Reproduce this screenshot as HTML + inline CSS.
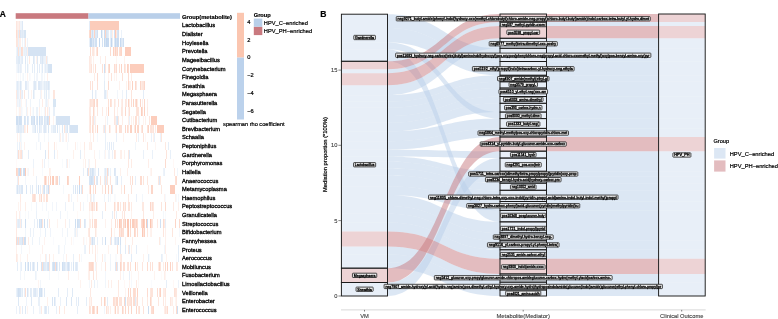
<!DOCTYPE html>
<html><head><meta charset="utf-8"><style>html,body{margin:0;padding:0;background:#fff;width:778px;height:319px;overflow:hidden}svg{display:block;will-change:transform}</style></head>
<body><svg width="778" height="319" viewBox="0 0 778 319">
<style>text{stroke:#000;stroke-width:0.2px;fill:#000}text.hl{stroke-width:0.3px}text.lb{stroke-width:0.3px;font-weight:normal}text.g{stroke:#404040;fill:#404040;stroke-width:0.12px}</style><rect width="778" height="319" fill="#fff"/>
<g shape-rendering="crispEdges"><rect x="16.00" y="21.10" width="1.00" height="8.62" fill="#fde6de"/><rect x="17.00" y="21.10" width="1.00" height="8.62" fill="#feeee9"/><rect x="18.00" y="21.10" width="1.00" height="8.62" fill="#fef0eb"/><rect x="19.00" y="21.10" width="1.00" height="8.62" fill="#fde8e1"/><rect x="20.00" y="21.10" width="1.00" height="8.62" fill="#eff4fb"/><rect x="21.00" y="21.10" width="1.00" height="8.62" fill="#eef4fa"/><rect x="22.00" y="21.10" width="0.60" height="8.62" fill="#dee9f6"/><rect x="88.50" y="21.10" width="1.10" height="8.62" fill="#e4edf8"/><rect x="89.60" y="21.10" width="29.10" height="8.62" fill="#fbccbb"/><rect x="16.00" y="29.72" width="1.00" height="8.62" fill="#fddcd0"/><rect x="17.00" y="29.72" width="1.00" height="8.62" fill="#fde8e1"/><rect x="18.00" y="29.72" width="1.00" height="8.62" fill="#e2ecf7"/><rect x="19.00" y="29.72" width="1.00" height="8.62" fill="#fdded2"/><rect x="20.00" y="29.72" width="1.00" height="8.62" fill="#dbe7f5"/><rect x="21.00" y="29.72" width="1.00" height="8.62" fill="#e4edf8"/><rect x="22.00" y="29.72" width="1.00" height="8.62" fill="#dfeaf6"/><rect x="23.00" y="29.72" width="1.00" height="8.62" fill="#e6eef8"/><rect x="24.00" y="29.72" width="1.80" height="8.62" fill="#d8e6f4"/><rect x="88.50" y="29.72" width="1.00" height="8.62" fill="#fcdcd0"/><rect x="89.50" y="29.72" width="1.00" height="8.62" fill="#fbccbb"/><rect x="90.50" y="29.72" width="1.00" height="8.62" fill="#e2ecf7"/><rect x="91.50" y="29.72" width="1.00" height="8.62" fill="#cfdff2"/><rect x="92.50" y="29.72" width="1.00" height="8.62" fill="#e5eef8"/><rect x="93.50" y="29.72" width="1.00" height="8.62" fill="#fcd4c6"/><rect x="94.50" y="29.72" width="1.00" height="8.62" fill="#dce8f5"/><rect x="95.50" y="29.72" width="1.00" height="8.62" fill="#dee9f6"/><rect x="96.50" y="29.72" width="1.00" height="8.62" fill="#d1e0f2"/><rect x="100.50" y="29.72" width="1.00" height="8.62" fill="#c8dbf0"/><rect x="101.50" y="29.72" width="1.00" height="8.62" fill="#e9f0f9"/><rect x="103.50" y="29.72" width="1.00" height="8.62" fill="#cfdff2"/><rect x="104.50" y="29.72" width="1.00" height="8.62" fill="#fcd5c7"/><rect x="105.50" y="29.72" width="1.00" height="8.62" fill="#d7e5f4"/><rect x="106.50" y="29.72" width="1.00" height="8.62" fill="#dfeaf6"/><rect x="107.50" y="29.72" width="1.00" height="8.62" fill="#e5eef8"/><rect x="109.50" y="29.72" width="1.00" height="8.62" fill="#e8f0f9"/><rect x="110.50" y="29.72" width="1.00" height="8.62" fill="#e3edf7"/><rect x="111.50" y="29.72" width="1.00" height="8.62" fill="#feede7"/><rect x="113.50" y="29.72" width="1.00" height="8.62" fill="#d4e2f3"/><rect x="114.50" y="29.72" width="1.00" height="8.62" fill="#fbccbb"/><rect x="115.50" y="29.72" width="1.00" height="8.62" fill="#fde7df"/><rect x="116.50" y="29.72" width="1.00" height="8.62" fill="#d7e5f4"/><rect x="117.50" y="29.72" width="1.00" height="8.62" fill="#d2e1f3"/><rect x="120.50" y="29.72" width="1.00" height="8.62" fill="#ebf2fa"/><rect x="121.50" y="29.72" width="0.30" height="8.62" fill="#d8e5f4"/><rect x="16.00" y="38.34" width="1.00" height="8.62" fill="#fde5dc"/><rect x="17.00" y="38.34" width="1.00" height="8.62" fill="#fde7df"/><rect x="18.00" y="38.34" width="1.00" height="8.62" fill="#eaf1f9"/><rect x="19.00" y="38.34" width="1.00" height="8.62" fill="#feede7"/><rect x="20.00" y="38.34" width="1.00" height="8.62" fill="#feeee9"/><rect x="22.00" y="38.34" width="1.00" height="8.62" fill="#eff5fb"/><rect x="24.00" y="38.34" width="1.00" height="8.62" fill="#eff4fb"/><rect x="25.00" y="38.34" width="1.00" height="8.62" fill="#fde8e0"/><rect x="27.00" y="38.34" width="0.80" height="8.62" fill="#eff4fb"/><rect x="88.50" y="38.34" width="1.00" height="8.62" fill="#e8f0f9"/><rect x="89.50" y="38.34" width="1.00" height="8.62" fill="#c2d7ee"/><rect x="90.50" y="38.34" width="1.00" height="8.62" fill="#c6d9ef"/><rect x="91.50" y="38.34" width="1.00" height="8.62" fill="#dbe7f5"/><rect x="92.50" y="38.34" width="1.00" height="8.62" fill="#cfdff2"/><rect x="93.50" y="38.34" width="1.00" height="8.62" fill="#e4edf8"/><rect x="94.50" y="38.34" width="1.00" height="8.62" fill="#d1e1f3"/><rect x="95.50" y="38.34" width="1.00" height="8.62" fill="#d0e0f2"/><rect x="98.50" y="38.34" width="1.00" height="8.62" fill="#c6d9ef"/><rect x="101.50" y="38.34" width="1.00" height="8.62" fill="#d5e3f4"/><rect x="103.50" y="38.34" width="1.00" height="8.62" fill="#c8dbf0"/><rect x="104.50" y="38.34" width="1.00" height="8.62" fill="#d7e5f4"/><rect x="105.50" y="38.34" width="1.00" height="8.62" fill="#c5d8ef"/><rect x="106.50" y="38.34" width="1.00" height="8.62" fill="#c9dbf0"/><rect x="107.50" y="38.34" width="1.00" height="8.62" fill="#c9dbf0"/><rect x="109.50" y="38.34" width="1.00" height="8.62" fill="#e5eef8"/><rect x="110.50" y="38.34" width="1.00" height="8.62" fill="#c3d7ef"/><rect x="111.50" y="38.34" width="1.00" height="8.62" fill="#e6eef8"/><rect x="113.50" y="38.34" width="1.00" height="8.62" fill="#dee9f6"/><rect x="114.50" y="38.34" width="1.00" height="8.62" fill="#c4d8ef"/><rect x="115.50" y="38.34" width="1.00" height="8.62" fill="#d4e2f3"/><rect x="116.50" y="38.34" width="1.00" height="8.62" fill="#c9dbf0"/><rect x="117.50" y="38.34" width="1.00" height="8.62" fill="#cbdcf1"/><rect x="119.50" y="38.34" width="1.00" height="8.62" fill="#c7daf0"/><rect x="120.50" y="38.34" width="1.00" height="8.62" fill="#dde8f6"/><rect x="121.50" y="38.34" width="1.00" height="8.62" fill="#e0ebf7"/><rect x="122.50" y="38.34" width="1.00" height="8.62" fill="#cfdff2"/><rect x="124.50" y="38.34" width="0.50" height="8.62" fill="#d5e3f4"/><rect x="16.00" y="46.96" width="1.00" height="8.62" fill="#eff5fb"/><rect x="17.00" y="46.96" width="1.00" height="8.62" fill="#e1ebf7"/><rect x="18.00" y="46.96" width="1.00" height="8.62" fill="#fde2d8"/><rect x="19.00" y="46.96" width="1.00" height="8.62" fill="#eaf1f9"/><rect x="20.00" y="46.96" width="1.00" height="8.62" fill="#ebf2fa"/><rect x="21.00" y="46.96" width="1.00" height="8.62" fill="#fdddd2"/><rect x="22.00" y="46.96" width="1.00" height="8.62" fill="#fddfd4"/><rect x="23.00" y="46.96" width="1.00" height="8.62" fill="#f0f5fb"/><rect x="24.00" y="46.96" width="1.00" height="8.62" fill="#e9f1f9"/><rect x="25.00" y="46.96" width="1.00" height="8.62" fill="#ebf2fa"/><rect x="26.00" y="46.96" width="1.00" height="8.62" fill="#e6eef8"/><rect x="27.00" y="46.96" width="1.00" height="8.62" fill="#feefea"/><rect x="28.00" y="46.96" width="18.20" height="8.62" fill="#d5e3f3"/><rect x="89.50" y="46.96" width="1.00" height="8.62" fill="#fdddd1"/><rect x="91.50" y="46.96" width="1.00" height="8.62" fill="#fde9e1"/><rect x="92.50" y="46.96" width="1.00" height="8.62" fill="#fde7de"/><rect x="93.50" y="46.96" width="1.00" height="8.62" fill="#fef2ee"/><rect x="95.50" y="46.96" width="1.00" height="8.62" fill="#fde7df"/><rect x="96.50" y="46.96" width="1.00" height="8.62" fill="#fcd7c9"/><rect x="109.50" y="46.96" width="1.00" height="8.62" fill="#fddcd0"/><rect x="113.00" y="46.96" width="1.00" height="8.62" fill="#fcd2c3"/><rect x="114.00" y="46.96" width="1.00" height="8.62" fill="#feeae3"/><rect x="115.00" y="46.96" width="1.00" height="8.62" fill="#fcd3c4"/><rect x="116.00" y="46.96" width="1.00" height="8.62" fill="#fde2d8"/><rect x="117.00" y="46.96" width="1.00" height="8.62" fill="#fcd8cb"/><rect x="119.00" y="46.96" width="1.00" height="8.62" fill="#fde0d5"/><rect x="120.00" y="46.96" width="1.00" height="8.62" fill="#fcdbcf"/><rect x="121.00" y="46.96" width="1.00" height="8.62" fill="#fcd6c8"/><rect x="125.00" y="46.96" width="5.80" height="8.62" fill="#fccdbc"/><rect x="16.00" y="55.58" width="1.00" height="8.62" fill="#e6eef8"/><rect x="17.00" y="55.58" width="1.00" height="8.62" fill="#e6eef8"/><rect x="18.00" y="55.58" width="1.00" height="8.62" fill="#dfeaf6"/><rect x="19.00" y="55.58" width="1.00" height="8.62" fill="#dde9f6"/><rect x="20.00" y="55.58" width="1.00" height="8.62" fill="#eff4fb"/><rect x="21.00" y="55.58" width="1.00" height="8.62" fill="#e7eff9"/><rect x="22.00" y="55.58" width="1.00" height="8.62" fill="#e2ecf7"/><rect x="25.00" y="55.58" width="1.00" height="8.62" fill="#dde8f6"/><rect x="27.00" y="55.58" width="1.00" height="8.62" fill="#ecf3fa"/><rect x="29.00" y="55.58" width="1.00" height="8.62" fill="#feebe4"/><rect x="33.00" y="55.58" width="1.00" height="8.62" fill="#dce8f5"/><rect x="34.00" y="55.58" width="1.00" height="8.62" fill="#e8f0f9"/><rect x="36.00" y="55.58" width="1.00" height="8.62" fill="#fef2ed"/><rect x="37.00" y="55.58" width="1.00" height="8.62" fill="#dfeaf6"/><rect x="40.00" y="55.58" width="1.00" height="8.62" fill="#e0eaf7"/><rect x="41.00" y="55.58" width="1.00" height="8.62" fill="#e5eef8"/><rect x="42.00" y="55.58" width="1.00" height="8.62" fill="#dbe7f5"/><rect x="43.00" y="55.58" width="1.00" height="8.62" fill="#e9f0f9"/><rect x="44.00" y="55.58" width="1.00" height="8.62" fill="#ecf3fa"/><rect x="45.00" y="55.58" width="1.00" height="8.62" fill="#eef3fa"/><rect x="46.00" y="55.58" width="1.00" height="8.62" fill="#fde8e0"/><rect x="47.00" y="55.58" width="0.70" height="8.62" fill="#ecf2fa"/><rect x="88.50" y="55.58" width="1.00" height="8.62" fill="#fde9e2"/><rect x="89.50" y="55.58" width="1.00" height="8.62" fill="#feece6"/><rect x="90.50" y="55.58" width="1.00" height="8.62" fill="#fef2ed"/><rect x="92.50" y="55.58" width="1.00" height="8.62" fill="#fef1ec"/><rect x="99.50" y="55.58" width="1.00" height="8.62" fill="#feefea"/><rect x="104.50" y="55.58" width="1.00" height="8.62" fill="#feebe4"/><rect x="115.50" y="55.58" width="1.00" height="8.62" fill="#fef6f3"/><rect x="123.50" y="55.58" width="1.00" height="8.62" fill="#fef3ee"/><rect x="16.00" y="64.20" width="1.00" height="8.62" fill="#f4f7fc"/><rect x="17.00" y="64.20" width="1.00" height="8.62" fill="#ecf3fa"/><rect x="18.00" y="64.20" width="1.00" height="8.62" fill="#e4edf8"/><rect x="19.00" y="64.20" width="1.00" height="8.62" fill="#eff4fb"/><rect x="20.00" y="64.20" width="1.00" height="8.62" fill="#e6eef8"/><rect x="21.00" y="64.20" width="1.00" height="8.62" fill="#ecf2fa"/><rect x="25.00" y="64.20" width="1.00" height="8.62" fill="#e7eff9"/><rect x="27.00" y="64.20" width="1.00" height="8.62" fill="#e3edf7"/><rect x="28.00" y="64.20" width="1.00" height="8.62" fill="#f5f8fc"/><rect x="32.00" y="64.20" width="1.00" height="8.62" fill="#e5eef8"/><rect x="34.00" y="64.20" width="1.00" height="8.62" fill="#e5eef8"/><rect x="37.00" y="64.20" width="1.00" height="8.62" fill="#e3ecf7"/><rect x="39.00" y="64.20" width="1.00" height="8.62" fill="#e4edf8"/><rect x="41.00" y="64.20" width="1.00" height="8.62" fill="#f3f7fc"/><rect x="42.00" y="64.20" width="1.00" height="8.62" fill="#e0ebf7"/><rect x="44.00" y="64.20" width="1.00" height="8.62" fill="#f1f5fb"/><rect x="45.00" y="64.20" width="1.00" height="8.62" fill="#e4edf8"/><rect x="46.00" y="64.20" width="1.00" height="8.62" fill="#edf3fa"/><rect x="47.00" y="64.20" width="0.70" height="8.62" fill="#e7eff8"/><rect x="47.70" y="64.20" width="3.90" height="8.62" fill="#d5e3f3"/><rect x="88.50" y="64.20" width="1.00" height="8.62" fill="#feeae3"/><rect x="89.50" y="64.20" width="1.00" height="8.62" fill="#feece6"/><rect x="90.50" y="64.20" width="1.00" height="8.62" fill="#fde2d8"/><rect x="92.50" y="64.20" width="1.00" height="8.62" fill="#feebe4"/><rect x="94.50" y="64.20" width="1.00" height="8.62" fill="#fdded3"/><rect x="101.50" y="64.20" width="1.00" height="8.62" fill="#fde1d7"/><rect x="103.50" y="64.20" width="1.00" height="8.62" fill="#cfdff2"/><rect x="104.50" y="64.20" width="1.00" height="8.62" fill="#fde7df"/><rect x="107.50" y="64.20" width="1.00" height="8.62" fill="#fde1d6"/><rect x="108.50" y="64.20" width="1.00" height="8.62" fill="#fcd4c5"/><rect x="113.50" y="64.20" width="1.00" height="8.62" fill="#fddcd1"/><rect x="114.50" y="64.20" width="1.00" height="8.62" fill="#feece6"/><rect x="115.50" y="64.20" width="1.00" height="8.62" fill="#fddcd1"/><rect x="117.50" y="64.20" width="0.50" height="8.62" fill="#fcdbcf"/><rect x="119.00" y="64.20" width="1.00" height="8.62" fill="#fde0d6"/><rect x="121.00" y="64.20" width="1.00" height="8.62" fill="#fcd4c6"/><rect x="124.00" y="64.20" width="1.00" height="8.62" fill="#fddfd4"/><rect x="125.00" y="64.20" width="1.00" height="8.62" fill="#fdeae2"/><rect x="127.00" y="64.20" width="1.00" height="8.62" fill="#fcd2c3"/><rect x="128.00" y="64.20" width="1.00" height="8.62" fill="#fcdace"/><rect x="130.00" y="64.20" width="0.50" height="8.62" fill="#fbccbb"/><rect x="130.50" y="64.20" width="13.30" height="8.62" fill="#fccdbc"/><rect x="16.00" y="72.82" width="1.00" height="8.62" fill="#fffaf9"/><rect x="18.00" y="72.82" width="1.00" height="8.62" fill="#fafcfe"/><rect x="20.00" y="72.82" width="1.00" height="8.62" fill="#f5f8fc"/><rect x="22.00" y="72.82" width="1.00" height="8.62" fill="#f8fbfd"/><rect x="23.00" y="72.82" width="1.00" height="8.62" fill="#f2f7fc"/><rect x="25.00" y="72.82" width="1.00" height="8.62" fill="#fafcfe"/><rect x="27.00" y="72.82" width="1.00" height="8.62" fill="#fef3f0"/><rect x="29.00" y="72.82" width="1.00" height="8.62" fill="#f6f9fc"/><rect x="30.00" y="72.82" width="1.00" height="8.62" fill="#fafbfe"/><rect x="34.00" y="72.82" width="1.00" height="8.62" fill="#eff4fb"/><rect x="36.00" y="72.82" width="1.00" height="8.62" fill="#f2f6fb"/><rect x="37.00" y="72.82" width="1.00" height="8.62" fill="#f1f5fb"/><rect x="41.00" y="72.82" width="1.00" height="8.62" fill="#f2f6fb"/><rect x="42.00" y="72.82" width="1.00" height="8.62" fill="#f3f7fc"/><rect x="44.00" y="72.82" width="1.00" height="8.62" fill="#f6f9fc"/><rect x="47.00" y="72.82" width="1.00" height="8.62" fill="#feefea"/><rect x="93.50" y="72.82" width="1.00" height="8.62" fill="#feede7"/><rect x="96.50" y="72.82" width="1.00" height="8.62" fill="#fdddd2"/><rect x="103.50" y="72.82" width="1.00" height="8.62" fill="#ecf2fa"/><rect x="107.50" y="72.82" width="1.00" height="8.62" fill="#fef3f0"/><rect x="110.50" y="72.82" width="1.00" height="8.62" fill="#fde3da"/><rect x="113.50" y="72.82" width="1.00" height="8.62" fill="#fef5f2"/><rect x="115.50" y="72.82" width="1.00" height="8.62" fill="#fef3f0"/><rect x="121.50" y="72.82" width="1.00" height="8.62" fill="#fde1d7"/><rect x="127.50" y="72.82" width="1.00" height="8.62" fill="#fdded3"/><rect x="130.50" y="72.82" width="1.00" height="8.62" fill="#feede7"/><rect x="16.00" y="81.44" width="1.00" height="8.62" fill="#ecf2fa"/><rect x="17.00" y="81.44" width="1.00" height="8.62" fill="#e0ebf7"/><rect x="18.00" y="81.44" width="1.00" height="8.62" fill="#e9f0f9"/><rect x="19.00" y="81.44" width="1.00" height="8.62" fill="#f0f5fb"/><rect x="20.00" y="81.44" width="1.00" height="8.62" fill="#dbe7f5"/><rect x="21.00" y="81.44" width="1.00" height="8.62" fill="#eaf1f9"/><rect x="25.00" y="81.44" width="1.00" height="8.62" fill="#e0eaf7"/><rect x="26.00" y="81.44" width="1.00" height="8.62" fill="#e3ecf7"/><rect x="27.00" y="81.44" width="1.00" height="8.62" fill="#f1f5fb"/><rect x="28.00" y="81.44" width="1.00" height="8.62" fill="#f1f5fb"/><rect x="33.00" y="81.44" width="1.00" height="8.62" fill="#ebf1f9"/><rect x="34.00" y="81.44" width="1.00" height="8.62" fill="#dee9f6"/><rect x="35.00" y="81.44" width="1.00" height="8.62" fill="#dfeaf6"/><rect x="36.00" y="81.44" width="1.00" height="8.62" fill="#f0f5fb"/><rect x="38.00" y="81.44" width="1.00" height="8.62" fill="#dfe9f6"/><rect x="39.00" y="81.44" width="1.00" height="8.62" fill="#dee9f6"/><rect x="40.00" y="81.44" width="1.00" height="8.62" fill="#e4edf8"/><rect x="41.00" y="81.44" width="1.00" height="8.62" fill="#e6eef8"/><rect x="42.00" y="81.44" width="1.00" height="8.62" fill="#f0f5fb"/><rect x="43.00" y="81.44" width="1.00" height="8.62" fill="#eef4fa"/><rect x="44.00" y="81.44" width="1.00" height="8.62" fill="#e3edf7"/><rect x="45.00" y="81.44" width="1.00" height="8.62" fill="#e8f0f9"/><rect x="46.00" y="81.44" width="1.00" height="8.62" fill="#e2ecf7"/><rect x="47.00" y="81.44" width="1.00" height="8.62" fill="#e6eef8"/><rect x="48.00" y="81.44" width="1.00" height="8.62" fill="#dae7f5"/><rect x="49.00" y="81.44" width="1.00" height="8.62" fill="#e5eef8"/><rect x="89.50" y="81.44" width="1.00" height="8.62" fill="#fde2d8"/><rect x="91.50" y="81.44" width="1.00" height="8.62" fill="#fde2d8"/><rect x="96.50" y="81.44" width="1.00" height="8.62" fill="#fde2d8"/><rect x="103.50" y="81.44" width="1.00" height="8.62" fill="#e3edf7"/><rect x="107.50" y="81.44" width="1.00" height="8.62" fill="#fcdbcf"/><rect x="118.50" y="81.44" width="1.00" height="8.62" fill="#fef2ee"/><rect x="125.50" y="81.44" width="1.00" height="8.62" fill="#fef2ed"/><rect x="127.50" y="81.44" width="1.00" height="8.62" fill="#fcd9cc"/><rect x="128.50" y="81.44" width="1.00" height="8.62" fill="#feefea"/><rect x="129.50" y="81.44" width="1.00" height="8.62" fill="#fef1ec"/><rect x="132.00" y="81.44" width="1.00" height="8.62" fill="#fcd2c2"/><rect x="135.00" y="81.44" width="1.00" height="8.62" fill="#fcd9cc"/><rect x="136.00" y="81.44" width="1.00" height="8.62" fill="#fde8e1"/><rect x="140.00" y="81.44" width="1.00" height="8.62" fill="#fcd8ca"/><rect x="141.00" y="81.44" width="1.00" height="8.62" fill="#feebe4"/><rect x="142.00" y="81.44" width="1.00" height="8.62" fill="#fde6dd"/><rect x="143.00" y="81.44" width="1.00" height="8.62" fill="#fde4db"/><rect x="144.00" y="81.44" width="1.00" height="8.62" fill="#fcd7ca"/><rect x="16.00" y="90.06" width="1.00" height="8.62" fill="#feeae3"/><rect x="17.00" y="90.06" width="1.00" height="8.62" fill="#e5eef8"/><rect x="18.00" y="90.06" width="1.00" height="8.62" fill="#eaf1f9"/><rect x="19.00" y="90.06" width="1.00" height="8.62" fill="#f5f8fc"/><rect x="20.00" y="90.06" width="1.00" height="8.62" fill="#fde5dc"/><rect x="21.00" y="90.06" width="1.00" height="8.62" fill="#ecf2fa"/><rect x="22.00" y="90.06" width="1.00" height="8.62" fill="#e5edf8"/><rect x="24.00" y="90.06" width="1.00" height="8.62" fill="#fde8e0"/><rect x="28.00" y="90.06" width="1.00" height="8.62" fill="#e9f0f9"/><rect x="31.00" y="90.06" width="1.00" height="8.62" fill="#fef3ef"/><rect x="33.00" y="90.06" width="1.00" height="8.62" fill="#dfeaf6"/><rect x="34.00" y="90.06" width="1.00" height="8.62" fill="#eef4fa"/><rect x="40.00" y="90.06" width="1.00" height="8.62" fill="#eff4fb"/><rect x="41.00" y="90.06" width="1.00" height="8.62" fill="#fef3ef"/><rect x="44.00" y="90.06" width="1.00" height="8.62" fill="#e8f0f9"/><rect x="45.00" y="90.06" width="1.00" height="8.62" fill="#f5f9fc"/><rect x="46.00" y="90.06" width="1.00" height="8.62" fill="#e2ecf7"/><rect x="48.00" y="90.06" width="1.00" height="8.62" fill="#ebf2fa"/><rect x="49.00" y="90.06" width="1.00" height="8.62" fill="#f1f6fb"/><rect x="53.00" y="90.06" width="1.00" height="8.62" fill="#fde6de"/><rect x="54.00" y="90.06" width="0.80" height="8.62" fill="#fde7df"/><rect x="91.50" y="90.06" width="1.00" height="8.62" fill="#e0eaf6"/><rect x="94.50" y="90.06" width="1.00" height="8.62" fill="#e7eff8"/><rect x="95.50" y="90.06" width="1.00" height="8.62" fill="#f3f7fc"/><rect x="103.50" y="90.06" width="1.00" height="8.62" fill="#e2ecf7"/><rect x="104.50" y="90.06" width="1.00" height="8.62" fill="#dfeaf6"/><rect x="105.50" y="90.06" width="1.00" height="8.62" fill="#f0f5fb"/><rect x="106.50" y="90.06" width="1.00" height="8.62" fill="#fef2ed"/><rect x="116.50" y="90.06" width="1.00" height="8.62" fill="#f2f6fb"/><rect x="121.50" y="90.06" width="1.00" height="8.62" fill="#edf3fa"/><rect x="125.50" y="90.06" width="1.00" height="8.62" fill="#e2ecf7"/><rect x="130.50" y="90.06" width="1.00" height="8.62" fill="#fde5dc"/><rect x="142.50" y="90.06" width="1.00" height="8.62" fill="#e4edf8"/><rect x="16.00" y="98.68" width="1.00" height="8.62" fill="#fef2ee"/><rect x="17.00" y="98.68" width="1.00" height="8.62" fill="#eff4fb"/><rect x="18.00" y="98.68" width="1.00" height="8.62" fill="#f3f7fc"/><rect x="19.00" y="98.68" width="1.00" height="8.62" fill="#e9f1f9"/><rect x="20.00" y="98.68" width="1.00" height="8.62" fill="#f0f5fb"/><rect x="21.00" y="98.68" width="1.00" height="8.62" fill="#fef4f0"/><rect x="25.00" y="98.68" width="1.00" height="8.62" fill="#fff8f6"/><rect x="26.00" y="98.68" width="1.00" height="8.62" fill="#ecf2fa"/><rect x="30.00" y="98.68" width="1.00" height="8.62" fill="#eef4fa"/><rect x="39.00" y="98.68" width="1.00" height="8.62" fill="#edf3fa"/><rect x="42.00" y="98.68" width="1.00" height="8.62" fill="#feede7"/><rect x="45.00" y="98.68" width="1.00" height="8.62" fill="#f2f6fb"/><rect x="46.00" y="98.68" width="1.00" height="8.62" fill="#eaf1f9"/><rect x="47.00" y="98.68" width="1.00" height="8.62" fill="#f3f7fc"/><rect x="48.00" y="98.68" width="1.00" height="8.62" fill="#fef5f2"/><rect x="52.60" y="98.68" width="3.00" height="8.62" fill="#d8e6f4"/><rect x="88.50" y="98.68" width="1.00" height="8.62" fill="#fef1ec"/><rect x="89.50" y="98.68" width="1.00" height="8.62" fill="#fde1d7"/><rect x="90.50" y="98.68" width="1.00" height="8.62" fill="#fde5dc"/><rect x="91.50" y="98.68" width="1.00" height="8.62" fill="#fde7de"/><rect x="92.50" y="98.68" width="1.00" height="8.62" fill="#fdded3"/><rect x="93.50" y="98.68" width="1.00" height="8.62" fill="#fcd7ca"/><rect x="95.50" y="98.68" width="1.00" height="8.62" fill="#fde4db"/><rect x="96.50" y="98.68" width="1.00" height="8.62" fill="#fcd9cd"/><rect x="107.50" y="98.68" width="1.00" height="8.62" fill="#fde1d6"/><rect x="109.50" y="98.68" width="1.00" height="8.62" fill="#fdded2"/><rect x="110.50" y="98.68" width="1.00" height="8.62" fill="#fde5dc"/><rect x="113.50" y="98.68" width="1.00" height="8.62" fill="#fde8e0"/><rect x="114.50" y="98.68" width="1.00" height="8.62" fill="#fef1ed"/><rect x="117.50" y="98.68" width="1.00" height="8.62" fill="#fde4db"/><rect x="120.50" y="98.68" width="1.00" height="8.62" fill="#feefe9"/><rect x="121.50" y="98.68" width="1.00" height="8.62" fill="#fde8e1"/><rect x="124.50" y="98.68" width="1.00" height="8.62" fill="#fde8e1"/><rect x="125.50" y="98.68" width="1.00" height="8.62" fill="#feeae3"/><rect x="127.50" y="98.68" width="1.00" height="8.62" fill="#fcd5c7"/><rect x="128.50" y="98.68" width="1.00" height="8.62" fill="#feede6"/><rect x="130.50" y="98.68" width="1.00" height="8.62" fill="#fdddd2"/><rect x="132.50" y="98.68" width="1.00" height="8.62" fill="#fcd5c6"/><rect x="135.00" y="98.68" width="1.00" height="8.62" fill="#fde1d7"/><rect x="136.00" y="98.68" width="1.00" height="8.62" fill="#fcd2c3"/><rect x="137.00" y="98.68" width="1.00" height="8.62" fill="#feede6"/><rect x="140.00" y="98.68" width="1.00" height="8.62" fill="#fcd7ca"/><rect x="142.00" y="98.68" width="1.00" height="8.62" fill="#feede7"/><rect x="144.00" y="98.68" width="1.00" height="8.62" fill="#fcd8ca"/><rect x="147.00" y="98.68" width="1.00" height="8.62" fill="#feeee9"/><rect x="16.00" y="107.30" width="1.00" height="8.62" fill="#fef6f2"/><rect x="18.00" y="107.30" width="1.00" height="8.62" fill="#fafcfe"/><rect x="19.00" y="107.30" width="1.00" height="8.62" fill="#fef1ec"/><rect x="20.00" y="107.30" width="1.00" height="8.62" fill="#fef2ee"/><rect x="21.00" y="107.30" width="1.00" height="8.62" fill="#f3f7fc"/><rect x="22.00" y="107.30" width="1.00" height="8.62" fill="#f9fbfd"/><rect x="26.00" y="107.30" width="1.00" height="8.62" fill="#ecf3fa"/><rect x="27.00" y="107.30" width="1.00" height="8.62" fill="#fef3ef"/><rect x="30.00" y="107.30" width="1.00" height="8.62" fill="#feefea"/><rect x="32.00" y="107.30" width="1.00" height="8.62" fill="#f8fbfd"/><rect x="33.00" y="107.30" width="1.00" height="8.62" fill="#f0f5fb"/><rect x="36.00" y="107.30" width="1.00" height="8.62" fill="#edf3fa"/><rect x="37.00" y="107.30" width="1.00" height="8.62" fill="#ecf3fa"/><rect x="39.00" y="107.30" width="1.00" height="8.62" fill="#feefea"/><rect x="41.00" y="107.30" width="1.00" height="8.62" fill="#fafcfe"/><rect x="44.00" y="107.30" width="1.00" height="8.62" fill="#f3f7fc"/><rect x="45.00" y="107.30" width="1.00" height="8.62" fill="#feeae3"/><rect x="47.00" y="107.30" width="1.00" height="8.62" fill="#feebe4"/><rect x="48.00" y="107.30" width="1.00" height="8.62" fill="#fff8f6"/><rect x="49.00" y="107.30" width="1.00" height="8.62" fill="#e9f0f9"/><rect x="52.60" y="107.30" width="2.50" height="8.62" fill="#e8f0f9"/><rect x="88.50" y="107.30" width="1.00" height="8.62" fill="#feeae4"/><rect x="89.50" y="107.30" width="1.00" height="8.62" fill="#feeae3"/><rect x="92.50" y="107.30" width="1.00" height="8.62" fill="#fcd8cb"/><rect x="93.50" y="107.30" width="1.00" height="8.62" fill="#feeee8"/><rect x="96.50" y="107.30" width="1.00" height="8.62" fill="#fde7df"/><rect x="101.50" y="107.30" width="1.00" height="8.62" fill="#feebe4"/><rect x="105.50" y="107.30" width="1.00" height="8.62" fill="#feeee9"/><rect x="107.50" y="107.30" width="1.00" height="8.62" fill="#fcd5c7"/><rect x="113.50" y="107.30" width="1.00" height="8.62" fill="#fde7df"/><rect x="116.50" y="107.30" width="1.00" height="8.62" fill="#fef1ec"/><rect x="120.50" y="107.30" width="1.00" height="8.62" fill="#fde7df"/><rect x="121.50" y="107.30" width="1.00" height="8.62" fill="#fde8e0"/><rect x="124.50" y="107.30" width="1.00" height="8.62" fill="#fcd9cd"/><rect x="127.50" y="107.30" width="1.00" height="8.62" fill="#fef0eb"/><rect x="128.50" y="107.30" width="1.00" height="8.62" fill="#fde1d7"/><rect x="135.50" y="107.30" width="1.00" height="8.62" fill="#fde5dc"/><rect x="137.00" y="107.30" width="1.00" height="8.62" fill="#fde2d8"/><rect x="138.00" y="107.30" width="1.00" height="8.62" fill="#fde4db"/><rect x="141.00" y="107.30" width="1.00" height="8.62" fill="#fccebe"/><rect x="142.00" y="107.30" width="1.00" height="8.62" fill="#fdddd1"/><rect x="144.00" y="107.30" width="1.00" height="8.62" fill="#fcd1c1"/><rect x="147.00" y="107.30" width="1.00" height="8.62" fill="#fdeae2"/><rect x="16.00" y="115.92" width="1.00" height="8.62" fill="#cfdff2"/><rect x="17.00" y="115.92" width="1.00" height="8.62" fill="#cedff2"/><rect x="18.00" y="115.92" width="1.00" height="8.62" fill="#dde8f6"/><rect x="19.00" y="115.92" width="1.00" height="8.62" fill="#cedff2"/><rect x="20.00" y="115.92" width="1.00" height="8.62" fill="#d0e0f2"/><rect x="21.00" y="115.92" width="1.00" height="8.62" fill="#d3e2f3"/><rect x="24.00" y="115.92" width="1.00" height="8.62" fill="#d7e5f4"/><rect x="25.00" y="115.92" width="1.00" height="8.62" fill="#dee9f6"/><rect x="27.00" y="115.92" width="1.00" height="8.62" fill="#d9e6f5"/><rect x="28.00" y="115.92" width="1.00" height="8.62" fill="#e4edf8"/><rect x="31.00" y="115.92" width="1.00" height="8.62" fill="#d5e3f3"/><rect x="32.00" y="115.92" width="1.00" height="8.62" fill="#dbe7f5"/><rect x="33.00" y="115.92" width="1.00" height="8.62" fill="#dae6f5"/><rect x="34.00" y="115.92" width="1.00" height="8.62" fill="#cfdff2"/><rect x="36.00" y="115.92" width="1.00" height="8.62" fill="#e1ebf7"/><rect x="37.00" y="115.92" width="1.00" height="8.62" fill="#d5e3f4"/><rect x="39.00" y="115.92" width="1.00" height="8.62" fill="#cddef1"/><rect x="40.00" y="115.92" width="1.00" height="8.62" fill="#e4edf8"/><rect x="41.00" y="115.92" width="1.00" height="8.62" fill="#dde8f6"/><rect x="42.00" y="115.92" width="1.00" height="8.62" fill="#dce8f5"/><rect x="44.00" y="115.92" width="1.00" height="8.62" fill="#d9e6f5"/><rect x="45.00" y="115.92" width="1.00" height="8.62" fill="#e1ebf7"/><rect x="46.00" y="115.92" width="1.00" height="8.62" fill="#e4edf8"/><rect x="47.00" y="115.92" width="1.00" height="8.62" fill="#d1e0f2"/><rect x="48.00" y="115.92" width="1.00" height="8.62" fill="#d9e6f5"/><rect x="49.00" y="115.92" width="1.00" height="8.62" fill="#fcdbcf"/><rect x="53.40" y="115.92" width="1.00" height="8.62" fill="#fef4f1"/><rect x="55.40" y="115.92" width="0.30" height="8.62" fill="#f8fbfd"/><rect x="55.70" y="115.92" width="13.80" height="8.62" fill="#d5e3f3"/><rect x="88.50" y="115.92" width="1.00" height="8.62" fill="#feece6"/><rect x="89.50" y="115.92" width="1.00" height="8.62" fill="#fdddd2"/><rect x="91.50" y="115.92" width="1.00" height="8.62" fill="#fdeae2"/><rect x="92.50" y="115.92" width="1.00" height="8.62" fill="#fde2d9"/><rect x="93.50" y="115.92" width="1.00" height="8.62" fill="#ecf2fa"/><rect x="94.50" y="115.92" width="1.00" height="8.62" fill="#fef0ea"/><rect x="104.50" y="115.92" width="1.00" height="8.62" fill="#fef3ef"/><rect x="106.50" y="115.92" width="1.00" height="8.62" fill="#edf3fa"/><rect x="113.50" y="115.92" width="1.00" height="8.62" fill="#fde6de"/><rect x="114.50" y="115.92" width="1.00" height="8.62" fill="#feece6"/><rect x="115.50" y="115.92" width="1.00" height="8.62" fill="#e3edf7"/><rect x="116.50" y="115.92" width="1.00" height="8.62" fill="#dae7f5"/><rect x="117.50" y="115.92" width="1.00" height="8.62" fill="#fde8e0"/><rect x="121.50" y="115.92" width="1.00" height="8.62" fill="#feeee8"/><rect x="127.50" y="115.92" width="1.00" height="8.62" fill="#feefea"/><rect x="128.50" y="115.92" width="1.00" height="8.62" fill="#eaf1f9"/><rect x="130.50" y="115.92" width="1.00" height="8.62" fill="#fef1ec"/><rect x="132.50" y="115.92" width="1.00" height="8.62" fill="#feefe9"/><rect x="134.50" y="115.92" width="1.00" height="8.62" fill="#fddfd4"/><rect x="135.50" y="115.92" width="1.00" height="8.62" fill="#fde1d7"/><rect x="137.50" y="115.92" width="1.00" height="8.62" fill="#feebe5"/><rect x="138.50" y="115.92" width="1.00" height="8.62" fill="#f1f6fb"/><rect x="142.50" y="115.92" width="1.00" height="8.62" fill="#fef4f0"/><rect x="144.50" y="115.92" width="1.00" height="8.62" fill="#fef1ec"/><rect x="148.50" y="115.92" width="1.00" height="8.62" fill="#fde6de"/><rect x="150.50" y="115.92" width="0.30" height="8.62" fill="#fef6f3"/><rect x="150.80" y="115.92" width="6.30" height="8.62" fill="#fccdbc"/><rect x="16.00" y="124.54" width="1.00" height="8.62" fill="#e9f1f9"/><rect x="17.00" y="124.54" width="1.00" height="8.62" fill="#e1ebf7"/><rect x="18.00" y="124.54" width="1.00" height="8.62" fill="#dae7f5"/><rect x="19.00" y="124.54" width="1.00" height="8.62" fill="#e4edf8"/><rect x="20.00" y="124.54" width="1.00" height="8.62" fill="#e2ecf7"/><rect x="21.00" y="124.54" width="1.00" height="8.62" fill="#e2ecf7"/><rect x="22.00" y="124.54" width="1.00" height="8.62" fill="#edf3fa"/><rect x="23.00" y="124.54" width="1.00" height="8.62" fill="#e2ecf7"/><rect x="24.00" y="124.54" width="1.00" height="8.62" fill="#feeae3"/><rect x="25.00" y="124.54" width="1.00" height="8.62" fill="#fef2ed"/><rect x="27.00" y="124.54" width="1.00" height="8.62" fill="#fde0d5"/><rect x="32.00" y="124.54" width="1.00" height="8.62" fill="#eff5fb"/><rect x="33.00" y="124.54" width="1.00" height="8.62" fill="#ecf2fa"/><rect x="34.00" y="124.54" width="1.00" height="8.62" fill="#e9f1f9"/><rect x="35.00" y="124.54" width="1.00" height="8.62" fill="#dbe7f5"/><rect x="37.00" y="124.54" width="1.00" height="8.62" fill="#e4edf8"/><rect x="39.00" y="124.54" width="1.00" height="8.62" fill="#dde8f6"/><rect x="40.00" y="124.54" width="1.00" height="8.62" fill="#ebf2fa"/><rect x="41.00" y="124.54" width="1.00" height="8.62" fill="#ebf2fa"/><rect x="43.00" y="124.54" width="1.00" height="8.62" fill="#e9f0f9"/><rect x="44.00" y="124.54" width="1.00" height="8.62" fill="#dde8f6"/><rect x="45.00" y="124.54" width="1.00" height="8.62" fill="#dee9f6"/><rect x="46.00" y="124.54" width="1.00" height="8.62" fill="#edf3fa"/><rect x="48.00" y="124.54" width="1.00" height="8.62" fill="#dce8f5"/><rect x="51.00" y="124.54" width="1.00" height="8.62" fill="#ebf2fa"/><rect x="52.00" y="124.54" width="1.00" height="8.62" fill="#f0f5fb"/><rect x="53.00" y="124.54" width="1.00" height="8.62" fill="#e3edf7"/><rect x="54.00" y="124.54" width="1.00" height="8.62" fill="#e5eef8"/><rect x="55.00" y="124.54" width="1.00" height="8.62" fill="#e0eaf6"/><rect x="57.00" y="124.54" width="1.00" height="8.62" fill="#dce8f5"/><rect x="59.00" y="124.54" width="1.00" height="8.62" fill="#edf3fa"/><rect x="62.00" y="124.54" width="1.00" height="8.62" fill="#dde9f6"/><rect x="64.00" y="124.54" width="1.00" height="8.62" fill="#fde5dc"/><rect x="65.00" y="124.54" width="1.00" height="8.62" fill="#e8f0f9"/><rect x="66.00" y="124.54" width="1.00" height="8.62" fill="#e5eef8"/><rect x="67.00" y="124.54" width="1.00" height="8.62" fill="#dae7f5"/><rect x="69.00" y="124.54" width="1.00" height="8.62" fill="#e3ecf7"/><rect x="70.20" y="124.54" width="7.50" height="8.62" fill="#d5e3f3"/><rect x="88.50" y="124.54" width="1.00" height="8.62" fill="#feeae3"/><rect x="89.50" y="124.54" width="1.00" height="8.62" fill="#fde3d9"/><rect x="91.50" y="124.54" width="1.00" height="8.62" fill="#fddcd0"/><rect x="92.50" y="124.54" width="1.00" height="8.62" fill="#fdeae2"/><rect x="94.50" y="124.54" width="1.00" height="8.62" fill="#fde7df"/><rect x="96.50" y="124.54" width="1.00" height="8.62" fill="#fcd5c7"/><rect x="102.50" y="124.54" width="1.00" height="8.62" fill="#feebe4"/><rect x="103.50" y="124.54" width="1.00" height="8.62" fill="#e0ebf7"/><rect x="104.50" y="124.54" width="1.00" height="8.62" fill="#fde5dd"/><rect x="108.50" y="124.54" width="1.00" height="8.62" fill="#fdded3"/><rect x="109.50" y="124.54" width="1.00" height="8.62" fill="#fef1ec"/><rect x="114.50" y="124.54" width="1.00" height="8.62" fill="#feede7"/><rect x="115.50" y="124.54" width="1.00" height="8.62" fill="#fcdbcf"/><rect x="119.00" y="124.54" width="1.00" height="8.62" fill="#fdded3"/><rect x="120.00" y="124.54" width="1.00" height="8.62" fill="#fde0d5"/><rect x="121.00" y="124.54" width="1.00" height="8.62" fill="#fde0d6"/><rect x="125.00" y="124.54" width="1.00" height="8.62" fill="#fcd8cb"/><rect x="127.00" y="124.54" width="1.00" height="8.62" fill="#fddcd0"/><rect x="128.00" y="124.54" width="1.00" height="8.62" fill="#fde7df"/><rect x="130.00" y="124.54" width="1.00" height="8.62" fill="#fcd2c3"/><rect x="131.00" y="124.54" width="1.00" height="8.62" fill="#fcd2c2"/><rect x="134.00" y="124.54" width="1.00" height="8.62" fill="#feeae3"/><rect x="135.00" y="124.54" width="1.00" height="8.62" fill="#fcd0c0"/><rect x="137.00" y="124.54" width="1.00" height="8.62" fill="#fcd9cc"/><rect x="138.00" y="124.54" width="1.00" height="8.62" fill="#fcd6c8"/><rect x="141.00" y="124.54" width="1.00" height="8.62" fill="#fde8e0"/><rect x="142.00" y="124.54" width="1.00" height="8.62" fill="#fcdace"/><rect x="147.00" y="124.54" width="1.00" height="8.62" fill="#fde2d9"/><rect x="148.00" y="124.54" width="1.00" height="8.62" fill="#fcd5c6"/><rect x="150.00" y="124.54" width="1.00" height="8.62" fill="#fde4db"/><rect x="151.00" y="124.54" width="1.00" height="8.62" fill="#fde3d9"/><rect x="152.00" y="124.54" width="1.00" height="8.62" fill="#fde9e2"/><rect x="153.00" y="124.54" width="1.00" height="8.62" fill="#fde3d9"/><rect x="155.00" y="124.54" width="1.00" height="8.62" fill="#feeae3"/><rect x="157.00" y="124.54" width="0.10" height="8.62" fill="#fde2d8"/><rect x="157.10" y="124.54" width="7.10" height="8.62" fill="#fccdbc"/><rect x="17.00" y="133.16" width="1.00" height="8.62" fill="#fef2ee"/><rect x="19.00" y="133.16" width="1.00" height="8.62" fill="#fef6f3"/><rect x="20.00" y="133.16" width="1.00" height="8.62" fill="#eef4fa"/><rect x="21.00" y="133.16" width="1.00" height="8.62" fill="#f5f9fc"/><rect x="38.00" y="133.16" width="1.00" height="8.62" fill="#eff5fb"/><rect x="39.00" y="133.16" width="1.00" height="8.62" fill="#f8fafd"/><rect x="44.00" y="133.16" width="1.00" height="8.62" fill="#f5f9fc"/><rect x="48.00" y="133.16" width="1.00" height="8.62" fill="#f4f8fc"/><rect x="59.00" y="133.16" width="1.00" height="8.62" fill="#f0f5fb"/><rect x="60.00" y="133.16" width="1.00" height="8.62" fill="#fef0eb"/><rect x="62.00" y="133.16" width="1.00" height="8.62" fill="#f0f5fb"/><rect x="63.00" y="133.16" width="1.00" height="8.62" fill="#f1f5fb"/><rect x="65.00" y="133.16" width="1.00" height="8.62" fill="#fff8f6"/><rect x="66.00" y="133.16" width="1.00" height="8.62" fill="#feefea"/><rect x="68.00" y="133.16" width="1.00" height="8.62" fill="#f0f5fb"/><rect x="89.50" y="133.16" width="1.00" height="8.62" fill="#fef3ef"/><rect x="92.50" y="133.16" width="1.00" height="8.62" fill="#feece5"/><rect x="96.50" y="133.16" width="1.00" height="8.62" fill="#f4f8fc"/><rect x="104.50" y="133.16" width="1.00" height="8.62" fill="#e9f1f9"/><rect x="115.50" y="133.16" width="1.00" height="8.62" fill="#e9f0f9"/><rect x="122.50" y="133.16" width="1.00" height="8.62" fill="#fef4f0"/><rect x="135.50" y="133.16" width="1.00" height="8.62" fill="#feece6"/><rect x="137.50" y="133.16" width="1.00" height="8.62" fill="#ebf2f9"/><rect x="142.50" y="133.16" width="1.00" height="8.62" fill="#fde6de"/><rect x="144.50" y="133.16" width="1.00" height="8.62" fill="#fef7f5"/><rect x="150.50" y="133.16" width="1.00" height="8.62" fill="#ecf2fa"/><rect x="152.50" y="133.16" width="1.00" height="8.62" fill="#fef1ec"/><rect x="153.50" y="133.16" width="1.00" height="8.62" fill="#eaf1f9"/><rect x="159.50" y="133.16" width="1.00" height="8.62" fill="#ecf2fa"/><rect x="160.50" y="133.16" width="1.00" height="8.62" fill="#fde7de"/><rect x="17.00" y="141.78" width="1.00" height="8.62" fill="#ecf3fa"/><rect x="19.00" y="141.78" width="1.00" height="8.62" fill="#e8f0f9"/><rect x="20.00" y="141.78" width="1.00" height="8.62" fill="#fef5f2"/><rect x="21.00" y="141.78" width="1.00" height="8.62" fill="#f1f6fb"/><rect x="24.00" y="141.78" width="1.00" height="8.62" fill="#fef2ee"/><rect x="36.00" y="141.78" width="1.00" height="8.62" fill="#f5f8fc"/><rect x="40.00" y="141.78" width="1.00" height="8.62" fill="#ebf2fa"/><rect x="48.00" y="141.78" width="1.00" height="8.62" fill="#feede7"/><rect x="54.00" y="141.78" width="1.00" height="8.62" fill="#fde9e2"/><rect x="56.00" y="141.78" width="1.00" height="8.62" fill="#fff9f7"/><rect x="67.00" y="141.78" width="1.00" height="8.62" fill="#f6f9fc"/><rect x="75.00" y="141.78" width="1.00" height="8.62" fill="#feefea"/><rect x="77.00" y="141.78" width="1.00" height="8.62" fill="#f9fbfd"/><rect x="80.00" y="141.78" width="1.00" height="8.62" fill="#fffbf9"/><rect x="84.00" y="141.78" width="1.00" height="8.62" fill="#feece5"/><rect x="88.50" y="141.78" width="1.00" height="8.62" fill="#fef1ec"/><rect x="89.50" y="141.78" width="1.00" height="8.62" fill="#fef3ef"/><rect x="90.50" y="141.78" width="1.00" height="8.62" fill="#feece5"/><rect x="105.00" y="141.78" width="1.00" height="8.62" fill="#e8f0f9"/><rect x="107.00" y="141.78" width="1.00" height="8.62" fill="#edf3fa"/><rect x="109.00" y="141.78" width="1.00" height="8.62" fill="#e1ebf7"/><rect x="111.00" y="141.78" width="1.00" height="8.62" fill="#e4edf8"/><rect x="113.00" y="141.78" width="1.00" height="8.62" fill="#e6eef8"/><rect x="135.00" y="141.78" width="1.00" height="8.62" fill="#f1f6fb"/><rect x="147.00" y="141.78" width="1.00" height="8.62" fill="#fde8e0"/><rect x="155.00" y="141.78" width="1.00" height="8.62" fill="#fef6f3"/><rect x="165.00" y="141.78" width="1.00" height="8.62" fill="#fdeae2"/><rect x="168.00" y="141.78" width="1.00" height="8.62" fill="#e6eff8"/><rect x="17.00" y="150.40" width="1.00" height="8.62" fill="#ebf2fa"/><rect x="18.00" y="150.40" width="1.00" height="8.62" fill="#fddfd4"/><rect x="19.00" y="150.40" width="1.00" height="8.62" fill="#fef2ed"/><rect x="20.00" y="150.40" width="1.00" height="8.62" fill="#fde6de"/><rect x="21.00" y="150.40" width="1.00" height="8.62" fill="#fde2d8"/><rect x="22.00" y="150.40" width="1.00" height="8.62" fill="#e8f0f9"/><rect x="28.00" y="150.40" width="1.00" height="8.62" fill="#e6eef8"/><rect x="45.00" y="150.40" width="1.00" height="8.62" fill="#dce8f6"/><rect x="48.00" y="150.40" width="1.00" height="8.62" fill="#fde6dd"/><rect x="54.00" y="150.40" width="1.00" height="8.62" fill="#e1ebf7"/><rect x="57.00" y="150.40" width="1.00" height="8.62" fill="#fef5f1"/><rect x="73.00" y="150.40" width="1.00" height="8.62" fill="#fef2ed"/><rect x="80.00" y="150.40" width="1.00" height="8.62" fill="#e3edf7"/><rect x="84.00" y="150.40" width="1.00" height="8.62" fill="#fef2ee"/><rect x="93.50" y="150.40" width="1.00" height="8.62" fill="#fef3ef"/><rect x="98.50" y="150.40" width="1.00" height="8.62" fill="#f5f8fc"/><rect x="103.50" y="150.40" width="1.00" height="8.62" fill="#f5f8fc"/><rect x="104.50" y="150.40" width="1.00" height="8.62" fill="#fef5f2"/><rect x="107.50" y="150.40" width="1.00" height="8.62" fill="#f0f5fb"/><rect x="108.50" y="150.40" width="1.00" height="8.62" fill="#eff4fb"/><rect x="111.50" y="150.40" width="1.00" height="8.62" fill="#ecf2fa"/><rect x="113.50" y="150.40" width="1.00" height="8.62" fill="#fde6dd"/><rect x="114.50" y="150.40" width="1.00" height="8.62" fill="#feebe4"/><rect x="119.50" y="150.40" width="1.00" height="8.62" fill="#fef0eb"/><rect x="120.50" y="150.40" width="1.00" height="8.62" fill="#feefe9"/><rect x="123.50" y="150.40" width="1.00" height="8.62" fill="#fef2ee"/><rect x="127.50" y="150.40" width="1.00" height="8.62" fill="#fde9e2"/><rect x="128.50" y="150.40" width="1.00" height="8.62" fill="#e1ebf7"/><rect x="142.50" y="150.40" width="1.00" height="8.62" fill="#eaf1f9"/><rect x="151.50" y="150.40" width="1.00" height="8.62" fill="#eaf1f9"/><rect x="165.50" y="150.40" width="1.00" height="8.62" fill="#fde5dc"/><rect x="169.50" y="150.40" width="1.00" height="8.62" fill="#e8f0f9"/><rect x="16.00" y="159.02" width="1.00" height="8.62" fill="#fffaf9"/><rect x="33.00" y="159.02" width="1.00" height="8.62" fill="#edf3fa"/><rect x="42.00" y="159.02" width="1.00" height="8.62" fill="#fef0eb"/><rect x="44.00" y="159.02" width="1.00" height="8.62" fill="#ecf2fa"/><rect x="48.00" y="159.02" width="1.00" height="8.62" fill="#f6f9fc"/><rect x="62.00" y="159.02" width="1.00" height="8.62" fill="#f8fbfd"/><rect x="66.00" y="159.02" width="1.00" height="8.62" fill="#edf3fa"/><rect x="67.00" y="159.02" width="1.00" height="8.62" fill="#feede7"/><rect x="69.00" y="159.02" width="1.00" height="8.62" fill="#f7fafd"/><rect x="83.00" y="159.02" width="1.00" height="8.62" fill="#fef7f4"/><rect x="85.00" y="159.02" width="1.00" height="8.62" fill="#fef0ea"/><rect x="88.00" y="159.02" width="0.50" height="8.62" fill="#f3f7fc"/><rect x="88.50" y="159.02" width="1.00" height="8.62" fill="#fef3ef"/><rect x="94.50" y="159.02" width="1.00" height="8.62" fill="#feece6"/><rect x="127.50" y="159.02" width="1.00" height="8.62" fill="#fde8e1"/><rect x="130.50" y="159.02" width="1.00" height="8.62" fill="#feece5"/><rect x="147.50" y="159.02" width="1.00" height="8.62" fill="#feeee9"/><rect x="172.50" y="159.02" width="1.00" height="8.62" fill="#fff8f6"/><rect x="179.50" y="159.02" width="0.50" height="8.62" fill="#fef6f3"/><rect x="164.50" y="159.02" width="1.30" height="8.62" fill="#fcdcd0"/><rect x="16.00" y="167.64" width="1.00" height="8.62" fill="#fcd6c8"/><rect x="17.00" y="167.64" width="1.00" height="8.62" fill="#fddcd0"/><rect x="18.00" y="167.64" width="1.00" height="8.62" fill="#d3e2f3"/><rect x="19.00" y="167.64" width="1.00" height="8.62" fill="#c9dbf0"/><rect x="20.00" y="167.64" width="1.00" height="8.62" fill="#fccebd"/><rect x="21.00" y="167.64" width="1.00" height="8.62" fill="#dee9f6"/><rect x="23.00" y="167.64" width="1.00" height="8.62" fill="#d1e0f2"/><rect x="24.00" y="167.64" width="1.00" height="8.62" fill="#cbddf1"/><rect x="25.00" y="167.64" width="1.00" height="8.62" fill="#fbcdbc"/><rect x="27.00" y="167.64" width="1.00" height="8.62" fill="#fef8f5"/><rect x="28.00" y="167.64" width="1.00" height="8.62" fill="#f4f7fc"/><rect x="33.00" y="167.64" width="1.00" height="8.62" fill="#fef3ef"/><rect x="42.00" y="167.64" width="1.00" height="8.62" fill="#f7fafd"/><rect x="49.00" y="167.64" width="1.00" height="8.62" fill="#feefe9"/><rect x="50.00" y="167.64" width="1.00" height="8.62" fill="#fef4f0"/><rect x="83.00" y="167.64" width="1.00" height="8.62" fill="#e8f0f9"/><rect x="87.00" y="167.64" width="1.00" height="8.62" fill="#d8e5f4"/><rect x="88.00" y="167.64" width="0.50" height="8.62" fill="#fde0d5"/><rect x="88.50" y="167.64" width="1.00" height="8.62" fill="#f1f6fb"/><rect x="89.50" y="167.64" width="1.00" height="8.62" fill="#d7e5f4"/><rect x="90.50" y="167.64" width="1.00" height="8.62" fill="#e3edf7"/><rect x="91.50" y="167.64" width="1.00" height="8.62" fill="#d3e2f3"/><rect x="92.50" y="167.64" width="1.00" height="8.62" fill="#dae7f5"/><rect x="93.50" y="167.64" width="1.00" height="8.62" fill="#ecf2fa"/><rect x="94.50" y="167.64" width="1.00" height="8.62" fill="#edf3fa"/><rect x="97.50" y="167.64" width="1.00" height="8.62" fill="#dbe7f5"/><rect x="103.50" y="167.64" width="1.00" height="8.62" fill="#ecf3fa"/><rect x="104.50" y="167.64" width="1.00" height="8.62" fill="#e1ebf7"/><rect x="105.50" y="167.64" width="1.00" height="8.62" fill="#eef4fa"/><rect x="106.50" y="167.64" width="1.00" height="8.62" fill="#fcdace"/><rect x="107.50" y="167.64" width="1.00" height="8.62" fill="#e4edf8"/><rect x="109.50" y="167.64" width="1.00" height="8.62" fill="#ecf3fa"/><rect x="113.50" y="167.64" width="1.00" height="8.62" fill="#dbe7f5"/><rect x="114.50" y="167.64" width="1.00" height="8.62" fill="#e0eaf7"/><rect x="120.00" y="167.64" width="1.00" height="8.62" fill="#fef1ec"/><rect x="127.00" y="167.64" width="1.00" height="8.62" fill="#fef0eb"/><rect x="150.00" y="167.64" width="1.00" height="8.62" fill="#fef6f4"/><rect x="151.00" y="167.64" width="1.00" height="8.62" fill="#fef1ec"/><rect x="163.00" y="167.64" width="1.00" height="8.62" fill="#eef3fa"/><rect x="164.00" y="167.64" width="1.00" height="8.62" fill="#eaf1f9"/><rect x="174.00" y="167.64" width="1.00" height="8.62" fill="#feeae3"/><rect x="177.00" y="167.64" width="1.00" height="8.62" fill="#f1f6fb"/><rect x="17.00" y="176.26" width="1.00" height="8.62" fill="#eaf1f9"/><rect x="18.00" y="176.26" width="1.00" height="8.62" fill="#fde4db"/><rect x="25.00" y="176.26" width="1.00" height="8.62" fill="#f4f7fc"/><rect x="36.00" y="176.26" width="1.00" height="8.62" fill="#eaf1f9"/><rect x="44.00" y="176.26" width="1.00" height="8.62" fill="#fdded3"/><rect x="45.00" y="176.26" width="1.00" height="8.62" fill="#fccfbf"/><rect x="46.00" y="176.26" width="1.00" height="8.62" fill="#fde7df"/><rect x="48.00" y="176.26" width="1.00" height="8.62" fill="#fddfd4"/><rect x="50.00" y="176.26" width="1.00" height="8.62" fill="#fccfbf"/><rect x="52.00" y="176.26" width="1.00" height="8.62" fill="#fccfbe"/><rect x="53.00" y="176.26" width="1.00" height="8.62" fill="#fbcab8"/><rect x="55.00" y="176.26" width="1.00" height="8.62" fill="#fdeae2"/><rect x="56.00" y="176.26" width="1.00" height="8.62" fill="#fcd8cb"/><rect x="57.00" y="176.26" width="1.00" height="8.62" fill="#fcd5c7"/><rect x="59.00" y="176.26" width="1.00" height="8.62" fill="#dae7f5"/><rect x="67.00" y="176.26" width="1.00" height="8.62" fill="#fcd2c3"/><rect x="68.00" y="176.26" width="1.00" height="8.62" fill="#fcdacd"/><rect x="79.00" y="176.26" width="1.00" height="8.62" fill="#fccfbf"/><rect x="88.50" y="176.26" width="1.00" height="8.62" fill="#d8e5f4"/><rect x="89.50" y="176.26" width="1.00" height="8.62" fill="#d4e3f3"/><rect x="90.50" y="176.26" width="1.00" height="8.62" fill="#cfdff2"/><rect x="91.50" y="176.26" width="1.00" height="8.62" fill="#d4e2f3"/><rect x="92.50" y="176.26" width="1.00" height="8.62" fill="#dfeaf6"/><rect x="93.50" y="176.26" width="1.00" height="8.62" fill="#fddcd1"/><rect x="95.50" y="176.26" width="1.00" height="8.62" fill="#e0eaf6"/><rect x="96.50" y="176.26" width="1.00" height="8.62" fill="#dbe7f5"/><rect x="99.50" y="176.26" width="1.00" height="8.62" fill="#fde4db"/><rect x="103.50" y="176.26" width="1.00" height="8.62" fill="#e5eef8"/><rect x="104.50" y="176.26" width="1.00" height="8.62" fill="#fde3da"/><rect x="105.50" y="176.26" width="1.00" height="8.62" fill="#e2ecf7"/><rect x="106.50" y="176.26" width="1.00" height="8.62" fill="#fde4db"/><rect x="109.50" y="176.26" width="1.00" height="8.62" fill="#fde5dc"/><rect x="114.50" y="176.26" width="1.00" height="8.62" fill="#ecf3fa"/><rect x="115.50" y="176.26" width="1.00" height="8.62" fill="#e5eef8"/><rect x="116.50" y="176.26" width="1.00" height="8.62" fill="#d5e3f4"/><rect x="120.50" y="176.26" width="0.50" height="8.62" fill="#e8f0f9"/><rect x="121.00" y="176.26" width="1.00" height="8.62" fill="#e9f0f9"/><rect x="130.00" y="176.26" width="1.00" height="8.62" fill="#fde4db"/><rect x="132.00" y="176.26" width="1.00" height="8.62" fill="#fdded2"/><rect x="135.00" y="176.26" width="1.00" height="8.62" fill="#e6eef8"/><rect x="140.00" y="176.26" width="1.00" height="8.62" fill="#fddcd0"/><rect x="141.00" y="176.26" width="1.00" height="8.62" fill="#fddcd1"/><rect x="143.00" y="176.26" width="1.00" height="8.62" fill="#fde6dd"/><rect x="147.00" y="176.26" width="1.00" height="8.62" fill="#fde7df"/><rect x="158.00" y="176.26" width="1.00" height="8.62" fill="#fde7df"/><rect x="159.00" y="176.26" width="1.00" height="8.62" fill="#dde8f6"/><rect x="160.00" y="176.26" width="1.00" height="8.62" fill="#fde8e0"/><rect x="175.00" y="176.26" width="1.00" height="8.62" fill="#fde0d5"/><rect x="176.00" y="176.26" width="1.00" height="8.62" fill="#fddcd0"/><rect x="16.00" y="184.88" width="1.00" height="8.62" fill="#ebf2fa"/><rect x="17.00" y="184.88" width="1.00" height="8.62" fill="#d8e5f4"/><rect x="18.00" y="184.88" width="1.00" height="8.62" fill="#eaf1f9"/><rect x="19.00" y="184.88" width="1.00" height="8.62" fill="#e0eaf7"/><rect x="20.00" y="184.88" width="1.00" height="8.62" fill="#e9f0f9"/><rect x="21.00" y="184.88" width="1.00" height="8.62" fill="#dce8f5"/><rect x="22.00" y="184.88" width="1.00" height="8.62" fill="#dae6f5"/><rect x="26.00" y="184.88" width="1.00" height="8.62" fill="#d9e6f5"/><rect x="30.00" y="184.88" width="1.00" height="8.62" fill="#e7eff8"/><rect x="32.00" y="184.88" width="1.00" height="8.62" fill="#e0eaf6"/><rect x="36.00" y="184.88" width="1.00" height="8.62" fill="#e2ecf7"/><rect x="38.00" y="184.88" width="1.00" height="8.62" fill="#d5e3f4"/><rect x="40.00" y="184.88" width="1.00" height="8.62" fill="#e6eef8"/><rect x="42.00" y="184.88" width="1.00" height="8.62" fill="#feeee8"/><rect x="43.00" y="184.88" width="1.00" height="8.62" fill="#dfeaf6"/><rect x="44.00" y="184.88" width="1.00" height="8.62" fill="#d4e2f3"/><rect x="46.00" y="184.88" width="1.00" height="8.62" fill="#e6eef8"/><rect x="47.00" y="184.88" width="1.00" height="8.62" fill="#e9f0f9"/><rect x="48.00" y="184.88" width="1.00" height="8.62" fill="#cedef2"/><rect x="49.00" y="184.88" width="1.00" height="8.62" fill="#fde6dd"/><rect x="63.00" y="184.88" width="1.00" height="8.62" fill="#f5f9fc"/><rect x="73.00" y="184.88" width="1.00" height="8.62" fill="#e2ecf7"/><rect x="75.00" y="184.88" width="1.00" height="8.62" fill="#dbe7f5"/><rect x="77.00" y="184.88" width="1.00" height="8.62" fill="#dde8f6"/><rect x="79.00" y="184.88" width="1.00" height="8.62" fill="#c9dbf0"/><rect x="81.00" y="184.88" width="1.00" height="8.62" fill="#dfeaf6"/><rect x="82.00" y="184.88" width="1.00" height="8.62" fill="#fddcd0"/><rect x="88.50" y="184.88" width="1.00" height="8.62" fill="#feebe5"/><rect x="89.50" y="184.88" width="1.00" height="8.62" fill="#fcd2c3"/><rect x="92.50" y="184.88" width="1.00" height="8.62" fill="#fde3da"/><rect x="94.50" y="184.88" width="1.00" height="8.62" fill="#fcdbcf"/><rect x="101.50" y="184.88" width="1.00" height="8.62" fill="#fde9e2"/><rect x="104.50" y="184.88" width="1.00" height="8.62" fill="#fcd7ca"/><rect x="107.50" y="184.88" width="1.00" height="8.62" fill="#fcd8cb"/><rect x="110.50" y="184.88" width="1.00" height="8.62" fill="#fcd8cb"/><rect x="111.50" y="184.88" width="1.00" height="8.62" fill="#e1ebf7"/><rect x="120.50" y="184.88" width="1.00" height="8.62" fill="#feebe4"/><rect x="123.50" y="184.88" width="1.00" height="8.62" fill="#fcd9cc"/><rect x="130.50" y="184.88" width="1.00" height="8.62" fill="#fde5dc"/><rect x="147.50" y="184.88" width="1.00" height="8.62" fill="#feeae3"/><rect x="150.50" y="184.88" width="1.00" height="8.62" fill="#fcd6c9"/><rect x="151.50" y="184.88" width="1.00" height="8.62" fill="#fcd7ca"/><rect x="160.50" y="184.88" width="1.00" height="8.62" fill="#fde8e0"/><rect x="169.60" y="184.88" width="5.40" height="8.62" fill="#fccdbc"/><rect x="20.00" y="193.50" width="1.00" height="8.62" fill="#feeae3"/><rect x="32.00" y="193.50" width="1.00" height="8.62" fill="#fde5dc"/><rect x="33.00" y="193.50" width="1.00" height="8.62" fill="#fde0d6"/><rect x="34.00" y="193.50" width="1.00" height="8.62" fill="#fddcd1"/><rect x="35.00" y="193.50" width="1.00" height="8.62" fill="#fde7df"/><rect x="39.00" y="193.50" width="1.00" height="8.62" fill="#fde5dc"/><rect x="40.00" y="193.50" width="1.00" height="8.62" fill="#fef1ed"/><rect x="41.00" y="193.50" width="1.00" height="8.62" fill="#fcdbcf"/><rect x="43.00" y="193.50" width="1.00" height="8.62" fill="#feefe9"/><rect x="44.00" y="193.50" width="1.00" height="8.62" fill="#feeae3"/><rect x="46.00" y="193.50" width="1.00" height="8.62" fill="#fdddd2"/><rect x="47.00" y="193.50" width="1.00" height="8.62" fill="#fde3d9"/><rect x="68.00" y="193.50" width="1.00" height="8.62" fill="#feeae3"/><rect x="69.00" y="193.50" width="1.00" height="8.62" fill="#fef1ec"/><rect x="71.00" y="193.50" width="1.00" height="8.62" fill="#eff4fb"/><rect x="77.00" y="193.50" width="1.00" height="8.62" fill="#fef5f2"/><rect x="87.00" y="193.50" width="1.00" height="8.62" fill="#f5f9fc"/><rect x="89.50" y="193.50" width="1.00" height="8.62" fill="#fdeae2"/><rect x="90.50" y="193.50" width="1.00" height="8.62" fill="#eef4fa"/><rect x="92.50" y="193.50" width="1.00" height="8.62" fill="#eaf1f9"/><rect x="93.50" y="193.50" width="1.00" height="8.62" fill="#f3f7fc"/><rect x="103.50" y="193.50" width="1.00" height="8.62" fill="#eff5fb"/><rect x="107.50" y="193.50" width="1.00" height="8.62" fill="#ebf2f9"/><rect x="109.50" y="193.50" width="1.00" height="8.62" fill="#f7fafd"/><rect x="113.50" y="193.50" width="1.00" height="8.62" fill="#f8fafd"/><rect x="114.50" y="193.50" width="1.00" height="8.62" fill="#f9fbfd"/><rect x="127.50" y="193.50" width="1.00" height="8.62" fill="#fde9e1"/><rect x="135.50" y="193.50" width="1.00" height="8.62" fill="#e9f0f9"/><rect x="141.50" y="193.50" width="1.00" height="8.62" fill="#f2f7fc"/><rect x="163.50" y="193.50" width="1.00" height="8.62" fill="#fef3f0"/><rect x="164.50" y="193.50" width="1.00" height="8.62" fill="#f6f9fd"/><rect x="174.50" y="193.50" width="1.00" height="8.62" fill="#fef2ed"/><rect x="175.50" y="193.50" width="1.00" height="8.62" fill="#f5f9fc"/><rect x="177.50" y="193.50" width="1.00" height="8.62" fill="#f4f8fc"/><rect x="18.00" y="202.12" width="1.00" height="8.62" fill="#fef4f0"/><rect x="20.00" y="202.12" width="1.00" height="8.62" fill="#feeee9"/><rect x="25.00" y="202.12" width="1.00" height="8.62" fill="#feefe9"/><rect x="31.00" y="202.12" width="1.00" height="8.62" fill="#f8fbfd"/><rect x="36.00" y="202.12" width="1.00" height="8.62" fill="#eff4fb"/><rect x="42.00" y="202.12" width="1.00" height="8.62" fill="#f6f9fd"/><rect x="46.00" y="202.12" width="1.00" height="8.62" fill="#f0f5fb"/><rect x="52.00" y="202.12" width="1.00" height="8.62" fill="#f2f6fb"/><rect x="56.00" y="202.12" width="1.00" height="8.62" fill="#f1f5fb"/><rect x="65.00" y="202.12" width="1.00" height="8.62" fill="#ecf2fa"/><rect x="73.00" y="202.12" width="1.00" height="8.62" fill="#edf3fa"/><rect x="80.00" y="202.12" width="1.00" height="8.62" fill="#feebe4"/><rect x="83.00" y="202.12" width="1.00" height="8.62" fill="#f1f6fb"/><rect x="88.50" y="202.12" width="1.00" height="8.62" fill="#fde9e2"/><rect x="89.50" y="202.12" width="1.00" height="8.62" fill="#fef2ed"/><rect x="90.50" y="202.12" width="1.00" height="8.62" fill="#fde4db"/><rect x="91.50" y="202.12" width="1.00" height="8.62" fill="#fcdacd"/><rect x="92.50" y="202.12" width="1.00" height="8.62" fill="#feece6"/><rect x="93.50" y="202.12" width="1.00" height="8.62" fill="#fde5dc"/><rect x="95.50" y="202.12" width="1.00" height="8.62" fill="#fcd6c8"/><rect x="96.50" y="202.12" width="1.00" height="8.62" fill="#feede7"/><rect x="104.50" y="202.12" width="1.00" height="8.62" fill="#fde5dc"/><rect x="113.50" y="202.12" width="1.00" height="8.62" fill="#fdddd1"/><rect x="114.50" y="202.12" width="1.00" height="8.62" fill="#fef0eb"/><rect x="116.50" y="202.12" width="1.00" height="8.62" fill="#fde2d8"/><rect x="117.50" y="202.12" width="1.00" height="8.62" fill="#fdddd1"/><rect x="119.50" y="202.12" width="1.00" height="8.62" fill="#fde6dd"/><rect x="122.50" y="202.12" width="1.00" height="8.62" fill="#fdddd1"/><rect x="123.50" y="202.12" width="1.00" height="8.62" fill="#fef0eb"/><rect x="124.50" y="202.12" width="1.00" height="8.62" fill="#fddfd4"/><rect x="127.50" y="202.12" width="1.00" height="8.62" fill="#fde3d9"/><rect x="128.50" y="202.12" width="1.00" height="8.62" fill="#fde3da"/><rect x="130.50" y="202.12" width="1.00" height="8.62" fill="#feebe4"/><rect x="141.50" y="202.12" width="1.00" height="8.62" fill="#fde9e1"/><rect x="142.50" y="202.12" width="1.00" height="8.62" fill="#fde8e1"/><rect x="149.50" y="202.12" width="1.00" height="8.62" fill="#fcd6c9"/><rect x="150.50" y="202.12" width="1.00" height="8.62" fill="#feeee9"/><rect x="151.50" y="202.12" width="1.00" height="8.62" fill="#fdded3"/><rect x="152.50" y="202.12" width="1.00" height="8.62" fill="#fde8e0"/><rect x="160.50" y="202.12" width="1.00" height="8.62" fill="#fde5dc"/><rect x="164.50" y="202.12" width="1.00" height="8.62" fill="#fcdbcf"/><rect x="172.50" y="202.12" width="1.00" height="8.62" fill="#feebe4"/><rect x="177.50" y="202.12" width="1.00" height="8.62" fill="#fef0eb"/><rect x="16.00" y="210.74" width="1.00" height="8.62" fill="#feeee8"/><rect x="19.00" y="210.74" width="1.00" height="8.62" fill="#feefea"/><rect x="20.00" y="210.74" width="1.00" height="8.62" fill="#f7f9fd"/><rect x="25.00" y="210.74" width="1.00" height="8.62" fill="#f9fbfd"/><rect x="28.00" y="210.74" width="1.00" height="8.62" fill="#f5f8fc"/><rect x="36.00" y="210.74" width="1.00" height="8.62" fill="#ebf2fa"/><rect x="48.00" y="210.74" width="1.00" height="8.62" fill="#f6f9fc"/><rect x="60.00" y="210.74" width="1.00" height="8.62" fill="#ecf2fa"/><rect x="67.00" y="210.74" width="1.00" height="8.62" fill="#f7fafd"/><rect x="77.00" y="210.74" width="1.00" height="8.62" fill="#fffaf8"/><rect x="88.50" y="210.74" width="1.00" height="8.62" fill="#fef5f2"/><rect x="91.50" y="210.74" width="1.00" height="8.62" fill="#fef3ef"/><rect x="101.50" y="210.74" width="1.00" height="8.62" fill="#e6eef8"/><rect x="111.50" y="210.74" width="1.00" height="8.62" fill="#e7eff8"/><rect x="113.50" y="210.74" width="1.00" height="8.62" fill="#fde7de"/><rect x="115.50" y="210.74" width="1.00" height="8.62" fill="#e9f0f9"/><rect x="121.50" y="210.74" width="1.00" height="8.62" fill="#feeae3"/><rect x="123.50" y="210.74" width="1.00" height="8.62" fill="#fde5dd"/><rect x="130.50" y="210.74" width="1.00" height="8.62" fill="#fef2ed"/><rect x="142.50" y="210.74" width="1.00" height="8.62" fill="#fde8e0"/><rect x="152.50" y="210.74" width="1.00" height="8.62" fill="#feefe9"/><rect x="162.50" y="210.74" width="1.00" height="8.62" fill="#f4f8fc"/><rect x="164.50" y="210.74" width="1.00" height="8.62" fill="#f9fbfd"/><rect x="175.50" y="210.74" width="1.00" height="8.62" fill="#feebe4"/><rect x="16.00" y="219.36" width="1.00" height="8.62" fill="#feece6"/><rect x="17.00" y="219.36" width="1.00" height="8.62" fill="#e8f0f9"/><rect x="18.00" y="219.36" width="1.00" height="8.62" fill="#e2ecf7"/><rect x="19.00" y="219.36" width="1.00" height="8.62" fill="#e5eef8"/><rect x="20.00" y="219.36" width="1.00" height="8.62" fill="#feece6"/><rect x="21.00" y="219.36" width="1.00" height="8.62" fill="#e2ecf7"/><rect x="25.00" y="219.36" width="1.00" height="8.62" fill="#d0e0f2"/><rect x="34.00" y="219.36" width="1.00" height="8.62" fill="#eaf1f9"/><rect x="37.00" y="219.36" width="1.00" height="8.62" fill="#e1ebf7"/><rect x="39.00" y="219.36" width="1.00" height="8.62" fill="#d1e1f3"/><rect x="40.00" y="219.36" width="1.00" height="8.62" fill="#dde9f6"/><rect x="41.00" y="219.36" width="1.00" height="8.62" fill="#d1e0f2"/><rect x="42.00" y="219.36" width="1.00" height="8.62" fill="#fde4db"/><rect x="44.00" y="219.36" width="1.00" height="8.62" fill="#d0e0f2"/><rect x="47.00" y="219.36" width="1.00" height="8.62" fill="#dee9f6"/><rect x="49.00" y="219.36" width="1.00" height="8.62" fill="#fde8e0"/><rect x="57.00" y="219.36" width="1.00" height="8.62" fill="#fef4f0"/><rect x="65.00" y="219.36" width="1.00" height="8.62" fill="#feefea"/><rect x="69.00" y="219.36" width="1.00" height="8.62" fill="#edf3fa"/><rect x="75.00" y="219.36" width="1.00" height="8.62" fill="#d0e0f2"/><rect x="77.00" y="219.36" width="1.00" height="8.62" fill="#d0e0f2"/><rect x="78.00" y="219.36" width="1.00" height="8.62" fill="#d6e4f4"/><rect x="79.00" y="219.36" width="1.00" height="8.62" fill="#d9e6f5"/><rect x="80.00" y="219.36" width="1.00" height="8.62" fill="#fdddd2"/><rect x="84.00" y="219.36" width="1.00" height="8.62" fill="#dbe7f5"/><rect x="85.00" y="219.36" width="1.00" height="8.62" fill="#e4edf8"/><rect x="88.50" y="219.36" width="1.00" height="8.62" fill="#feefe9"/><rect x="89.50" y="219.36" width="1.00" height="8.62" fill="#feede6"/><rect x="91.50" y="219.36" width="1.00" height="8.62" fill="#fde0d5"/><rect x="93.50" y="219.36" width="1.00" height="8.62" fill="#fddfd5"/><rect x="94.50" y="219.36" width="1.00" height="8.62" fill="#fdded3"/><rect x="95.50" y="219.36" width="1.00" height="8.62" fill="#fdddd2"/><rect x="104.50" y="219.36" width="1.00" height="8.62" fill="#fef2ee"/><rect x="110.50" y="219.36" width="1.00" height="8.62" fill="#feede7"/><rect x="114.50" y="219.36" width="1.00" height="8.62" fill="#fdddd2"/><rect x="116.50" y="219.36" width="1.00" height="8.62" fill="#fde3d9"/><rect x="117.50" y="219.36" width="0.50" height="8.62" fill="#fde4db"/><rect x="119.00" y="219.36" width="1.00" height="8.62" fill="#fbc8b6"/><rect x="120.00" y="219.36" width="1.00" height="8.62" fill="#fcd5c7"/><rect x="121.00" y="219.36" width="1.00" height="8.62" fill="#fcd5c7"/><rect x="123.00" y="219.36" width="1.00" height="8.62" fill="#fcd9cc"/><rect x="124.00" y="219.36" width="1.00" height="8.62" fill="#fde2d8"/><rect x="125.00" y="219.36" width="1.00" height="8.62" fill="#fbcdbc"/><rect x="127.00" y="219.36" width="1.00" height="8.62" fill="#fbc8b6"/><rect x="128.00" y="219.36" width="1.00" height="8.62" fill="#fbcab8"/><rect x="130.00" y="219.36" width="1.00" height="8.62" fill="#fccebd"/><rect x="132.00" y="219.36" width="1.00" height="8.62" fill="#fccfbe"/><rect x="133.00" y="219.36" width="1.00" height="8.62" fill="#fccebd"/><rect x="134.00" y="219.36" width="1.00" height="8.62" fill="#fcd8ca"/><rect x="135.00" y="219.36" width="1.00" height="8.62" fill="#fdded3"/><rect x="136.00" y="219.36" width="1.00" height="8.62" fill="#fcd2c3"/><rect x="137.00" y="219.36" width="1.00" height="8.62" fill="#fde1d6"/><rect x="141.00" y="219.36" width="1.00" height="8.62" fill="#fddcd0"/><rect x="142.00" y="219.36" width="1.00" height="8.62" fill="#fcd2c3"/><rect x="143.00" y="219.36" width="1.00" height="8.62" fill="#fbc5b1"/><rect x="144.00" y="219.36" width="1.00" height="8.62" fill="#fcd0c0"/><rect x="146.00" y="219.36" width="1.00" height="8.62" fill="#fbcab8"/><rect x="147.00" y="219.36" width="1.00" height="8.62" fill="#ccddf1"/><rect x="150.00" y="219.36" width="1.00" height="8.62" fill="#fbc5b1"/><rect x="151.00" y="219.36" width="1.00" height="8.62" fill="#fdded3"/><rect x="152.00" y="219.36" width="1.00" height="8.62" fill="#fde5dc"/><rect x="157.00" y="219.36" width="1.00" height="8.62" fill="#feeae3"/><rect x="160.00" y="219.36" width="1.00" height="8.62" fill="#d2e1f3"/><rect x="163.00" y="219.36" width="1.00" height="8.62" fill="#fddcd0"/><rect x="164.00" y="219.36" width="1.00" height="8.62" fill="#feeae3"/><rect x="165.00" y="219.36" width="1.00" height="8.62" fill="#e7eff9"/><rect x="175.00" y="219.36" width="1.00" height="8.62" fill="#fcd5c7"/><rect x="179.00" y="219.36" width="1.00" height="8.62" fill="#fcdace"/><rect x="16.00" y="227.98" width="1.00" height="8.62" fill="#feeae3"/><rect x="25.00" y="227.98" width="1.00" height="8.62" fill="#f1f6fb"/><rect x="30.00" y="227.98" width="1.00" height="8.62" fill="#eaf1f9"/><rect x="33.00" y="227.98" width="1.00" height="8.62" fill="#edf3fa"/><rect x="40.00" y="227.98" width="1.00" height="8.62" fill="#f3f7fc"/><rect x="45.00" y="227.98" width="1.00" height="8.62" fill="#e8f0f9"/><rect x="50.00" y="227.98" width="1.00" height="8.62" fill="#eff4fb"/><rect x="62.00" y="227.98" width="1.00" height="8.62" fill="#f2f6fb"/><rect x="67.00" y="227.98" width="1.00" height="8.62" fill="#eef4fa"/><rect x="74.00" y="227.98" width="1.00" height="8.62" fill="#f1f6fb"/><rect x="75.00" y="227.98" width="1.00" height="8.62" fill="#e9f1f9"/><rect x="76.00" y="227.98" width="1.00" height="8.62" fill="#fef6f3"/><rect x="77.00" y="227.98" width="1.00" height="8.62" fill="#f0f5fb"/><rect x="88.00" y="227.98" width="0.50" height="8.62" fill="#feebe4"/><rect x="88.50" y="227.98" width="1.00" height="8.62" fill="#fde5dd"/><rect x="94.50" y="227.98" width="1.00" height="8.62" fill="#fde8e0"/><rect x="95.50" y="227.98" width="1.00" height="8.62" fill="#fef4f0"/><rect x="110.50" y="227.98" width="1.00" height="8.62" fill="#fdddd1"/><rect x="113.50" y="227.98" width="1.00" height="8.62" fill="#fef5f1"/><rect x="117.50" y="227.98" width="0.50" height="8.62" fill="#feece5"/><rect x="119.00" y="227.98" width="1.00" height="8.62" fill="#fddcd0"/><rect x="120.00" y="227.98" width="1.00" height="8.62" fill="#fde8e0"/><rect x="121.00" y="227.98" width="1.00" height="8.62" fill="#fcd9cd"/><rect x="122.00" y="227.98" width="1.00" height="8.62" fill="#fde1d7"/><rect x="123.00" y="227.98" width="1.00" height="8.62" fill="#fddfd4"/><rect x="127.00" y="227.98" width="1.00" height="8.62" fill="#fcd7c9"/><rect x="128.00" y="227.98" width="1.00" height="8.62" fill="#fbc9b6"/><rect x="130.00" y="227.98" width="1.00" height="8.62" fill="#fdddd1"/><rect x="134.00" y="227.98" width="1.00" height="8.62" fill="#fcd6c8"/><rect x="135.00" y="227.98" width="1.00" height="8.62" fill="#fddfd4"/><rect x="137.00" y="227.98" width="1.00" height="8.62" fill="#fdddd2"/><rect x="142.00" y="227.98" width="1.00" height="8.62" fill="#fbc9b7"/><rect x="143.00" y="227.98" width="1.00" height="8.62" fill="#fde3da"/><rect x="144.00" y="227.98" width="1.00" height="8.62" fill="#fcd2c2"/><rect x="147.00" y="227.98" width="1.00" height="8.62" fill="#fde7df"/><rect x="150.00" y="227.98" width="1.00" height="8.62" fill="#fef3ef"/><rect x="151.00" y="227.98" width="1.00" height="8.62" fill="#fef1ec"/><rect x="163.00" y="227.98" width="1.00" height="8.62" fill="#fde6de"/><rect x="165.00" y="227.98" width="1.00" height="8.62" fill="#fef0ec"/><rect x="172.00" y="227.98" width="1.00" height="8.62" fill="#fde6dd"/><rect x="179.00" y="227.98" width="1.00" height="8.62" fill="#f5f8fc"/><rect x="16.00" y="236.60" width="1.00" height="8.62" fill="#fcdace"/><rect x="17.00" y="236.60" width="1.00" height="8.62" fill="#dbe7f5"/><rect x="18.00" y="236.60" width="1.00" height="8.62" fill="#fdded3"/><rect x="19.00" y="236.60" width="1.00" height="8.62" fill="#e0eaf7"/><rect x="20.00" y="236.60" width="1.00" height="8.62" fill="#e0ebf7"/><rect x="21.00" y="236.60" width="1.00" height="8.62" fill="#e1ebf7"/><rect x="22.00" y="236.60" width="1.00" height="8.62" fill="#d3e2f3"/><rect x="23.00" y="236.60" width="1.00" height="8.62" fill="#fde3d9"/><rect x="24.00" y="236.60" width="1.00" height="8.62" fill="#cfdff2"/><rect x="25.00" y="236.60" width="1.00" height="8.62" fill="#d1e0f2"/><rect x="28.00" y="236.60" width="1.00" height="8.62" fill="#feede7"/><rect x="32.00" y="236.60" width="1.00" height="8.62" fill="#ecf3fa"/><rect x="39.00" y="236.60" width="1.00" height="8.62" fill="#eef4fa"/><rect x="44.00" y="236.60" width="1.00" height="8.62" fill="#fef3f0"/><rect x="53.00" y="236.60" width="1.00" height="8.62" fill="#fafbfe"/><rect x="65.00" y="236.60" width="1.00" height="8.62" fill="#f4f8fc"/><rect x="71.00" y="236.60" width="1.00" height="8.62" fill="#fef5f1"/><rect x="73.00" y="236.60" width="1.00" height="8.62" fill="#fafbfe"/><rect x="83.00" y="236.60" width="1.00" height="8.62" fill="#fef2ee"/><rect x="84.00" y="236.60" width="1.00" height="8.62" fill="#f9fbfd"/><rect x="86.00" y="236.60" width="1.00" height="8.62" fill="#fff8f6"/><rect x="88.50" y="236.60" width="1.00" height="8.62" fill="#feece5"/><rect x="89.50" y="236.60" width="1.00" height="8.62" fill="#fde8e0"/><rect x="90.50" y="236.60" width="1.00" height="8.62" fill="#e7eff8"/><rect x="91.50" y="236.60" width="1.00" height="8.62" fill="#d2e1f3"/><rect x="92.50" y="236.60" width="1.00" height="8.62" fill="#e7eff8"/><rect x="93.50" y="236.60" width="1.00" height="8.62" fill="#dfeaf6"/><rect x="96.50" y="236.60" width="1.00" height="8.62" fill="#e9f0f9"/><rect x="101.50" y="236.60" width="1.00" height="8.62" fill="#e3ecf7"/><rect x="104.50" y="236.60" width="1.00" height="8.62" fill="#cfdff2"/><rect x="109.50" y="236.60" width="1.00" height="8.62" fill="#fde8e0"/><rect x="110.50" y="236.60" width="1.00" height="8.62" fill="#e1ebf7"/><rect x="113.50" y="236.60" width="1.00" height="8.62" fill="#e8f0f9"/><rect x="114.50" y="236.60" width="1.00" height="8.62" fill="#dae6f5"/><rect x="115.50" y="236.60" width="1.00" height="8.62" fill="#e9f0f9"/><rect x="116.50" y="236.60" width="1.00" height="8.62" fill="#e1ebf7"/><rect x="117.50" y="236.60" width="1.00" height="8.62" fill="#d1e1f2"/><rect x="119.50" y="236.60" width="1.00" height="8.62" fill="#d2e1f3"/><rect x="120.50" y="236.60" width="0.50" height="8.62" fill="#e2ecf7"/><rect x="125.00" y="236.60" width="1.00" height="8.62" fill="#fef0ea"/><rect x="132.00" y="236.60" width="1.00" height="8.62" fill="#feece6"/><rect x="159.00" y="236.60" width="1.00" height="8.62" fill="#fdeae2"/><rect x="160.00" y="236.60" width="1.00" height="8.62" fill="#f2f6fb"/><rect x="165.00" y="236.60" width="1.00" height="8.62" fill="#fef1ed"/><rect x="175.00" y="236.60" width="1.00" height="8.62" fill="#fef6f3"/><rect x="16.00" y="245.22" width="1.00" height="8.62" fill="#fef1ec"/><rect x="21.00" y="245.22" width="1.00" height="8.62" fill="#f2f6fb"/><rect x="29.00" y="245.22" width="1.00" height="8.62" fill="#fef7f5"/><rect x="42.00" y="245.22" width="1.00" height="8.62" fill="#fef1ed"/><rect x="58.00" y="245.22" width="1.00" height="8.62" fill="#ecf3fa"/><rect x="59.00" y="245.22" width="1.00" height="8.62" fill="#f4f8fc"/><rect x="64.00" y="245.22" width="1.00" height="8.62" fill="#f2f7fc"/><rect x="84.00" y="245.22" width="1.00" height="8.62" fill="#edf3fa"/><rect x="85.00" y="245.22" width="1.00" height="8.62" fill="#ebf2fa"/><rect x="88.50" y="245.22" width="1.00" height="8.62" fill="#fde7df"/><rect x="91.50" y="245.22" width="1.00" height="8.62" fill="#fef0eb"/><rect x="94.50" y="245.22" width="1.00" height="8.62" fill="#feebe5"/><rect x="96.50" y="245.22" width="1.00" height="8.62" fill="#fef6f3"/><rect x="107.50" y="245.22" width="1.00" height="8.62" fill="#fef3ef"/><rect x="116.50" y="245.22" width="1.00" height="8.62" fill="#fde3d9"/><rect x="119.50" y="245.22" width="1.00" height="8.62" fill="#dee9f6"/><rect x="124.50" y="245.22" width="1.00" height="8.62" fill="#e2ecf7"/><rect x="127.50" y="245.22" width="1.00" height="8.62" fill="#fde9e2"/><rect x="128.50" y="245.22" width="1.00" height="8.62" fill="#e1ebf7"/><rect x="130.50" y="245.22" width="1.00" height="8.62" fill="#fef2ee"/><rect x="135.50" y="245.22" width="1.00" height="8.62" fill="#e4edf8"/><rect x="146.50" y="245.22" width="1.00" height="8.62" fill="#fff9f7"/><rect x="163.50" y="245.22" width="1.00" height="8.62" fill="#f1f6fb"/><rect x="164.50" y="245.22" width="1.00" height="8.62" fill="#feeee9"/><rect x="177.50" y="245.22" width="1.00" height="8.62" fill="#e3edf7"/><rect x="16.00" y="253.84" width="1.00" height="8.62" fill="#fde9e1"/><rect x="17.00" y="253.84" width="1.00" height="8.62" fill="#fef0eb"/><rect x="20.00" y="253.84" width="1.00" height="8.62" fill="#fef5f2"/><rect x="27.00" y="253.84" width="1.00" height="8.62" fill="#fef0eb"/><rect x="40.00" y="253.84" width="1.00" height="8.62" fill="#fef7f5"/><rect x="45.00" y="253.84" width="1.00" height="8.62" fill="#feede7"/><rect x="46.00" y="253.84" width="1.00" height="8.62" fill="#eef4fa"/><rect x="49.00" y="253.84" width="1.00" height="8.62" fill="#fde8e1"/><rect x="53.00" y="253.84" width="1.00" height="8.62" fill="#fef3ee"/><rect x="63.00" y="253.84" width="1.00" height="8.62" fill="#f4f8fc"/><rect x="66.00" y="253.84" width="1.00" height="8.62" fill="#fef0eb"/><rect x="73.00" y="253.84" width="1.00" height="8.62" fill="#e8f0f9"/><rect x="79.00" y="253.84" width="1.00" height="8.62" fill="#feede6"/><rect x="81.00" y="253.84" width="1.00" height="8.62" fill="#f6f9fc"/><rect x="94.50" y="253.84" width="1.00" height="8.62" fill="#fde7df"/><rect x="96.50" y="253.84" width="1.00" height="8.62" fill="#f9fbfd"/><rect x="101.50" y="253.84" width="1.00" height="8.62" fill="#feebe4"/><rect x="103.50" y="253.84" width="1.00" height="8.62" fill="#f4f8fc"/><rect x="104.50" y="253.84" width="1.00" height="8.62" fill="#f5f9fc"/><rect x="109.50" y="253.84" width="1.00" height="8.62" fill="#f0f5fb"/><rect x="114.50" y="253.84" width="1.00" height="8.62" fill="#f9fbfd"/><rect x="115.50" y="253.84" width="1.00" height="8.62" fill="#f9fbfd"/><rect x="119.50" y="253.84" width="1.00" height="8.62" fill="#feece5"/><rect x="120.50" y="253.84" width="1.00" height="8.62" fill="#fde8e1"/><rect x="130.50" y="253.84" width="1.00" height="8.62" fill="#e3ecf7"/><rect x="142.50" y="253.84" width="1.00" height="8.62" fill="#fef2ed"/><rect x="147.50" y="253.84" width="1.00" height="8.62" fill="#e5eef8"/><rect x="148.50" y="253.84" width="1.00" height="8.62" fill="#f8fbfd"/><rect x="160.50" y="253.84" width="1.00" height="8.62" fill="#e6eff8"/><rect x="161.50" y="253.84" width="1.00" height="8.62" fill="#eef3fa"/><rect x="165.50" y="253.84" width="1.00" height="8.62" fill="#fef4f0"/><rect x="175.50" y="253.84" width="1.00" height="8.62" fill="#f8fafd"/><rect x="177.50" y="253.84" width="1.00" height="8.62" fill="#e5eef8"/><rect x="17.00" y="262.46" width="1.00" height="8.62" fill="#e5eef8"/><rect x="20.00" y="262.46" width="1.00" height="8.62" fill="#eff4fb"/><rect x="21.00" y="262.46" width="1.00" height="8.62" fill="#e7eff9"/><rect x="25.00" y="262.46" width="1.00" height="8.62" fill="#d0e0f2"/><rect x="27.00" y="262.46" width="1.00" height="8.62" fill="#e5eef8"/><rect x="28.00" y="262.46" width="1.00" height="8.62" fill="#cfdff2"/><rect x="30.00" y="262.46" width="1.00" height="8.62" fill="#dbe7f5"/><rect x="32.00" y="262.46" width="1.00" height="8.62" fill="#e4edf8"/><rect x="33.00" y="262.46" width="1.00" height="8.62" fill="#d7e4f4"/><rect x="34.00" y="262.46" width="1.00" height="8.62" fill="#e7eff8"/><rect x="37.00" y="262.46" width="1.00" height="8.62" fill="#d8e5f4"/><rect x="41.00" y="262.46" width="1.00" height="8.62" fill="#d7e4f4"/><rect x="42.00" y="262.46" width="1.00" height="8.62" fill="#fdded2"/><rect x="43.00" y="262.46" width="1.00" height="8.62" fill="#d8e5f4"/><rect x="44.00" y="262.46" width="1.00" height="8.62" fill="#e0ebf7"/><rect x="45.00" y="262.46" width="1.00" height="8.62" fill="#e2ecf7"/><rect x="46.00" y="262.46" width="1.00" height="8.62" fill="#eaf1f9"/><rect x="47.00" y="262.46" width="1.00" height="8.62" fill="#dbe7f5"/><rect x="48.00" y="262.46" width="1.00" height="8.62" fill="#d4e2f3"/><rect x="49.00" y="262.46" width="1.00" height="8.62" fill="#fde4db"/><rect x="52.00" y="262.46" width="1.00" height="8.62" fill="#dbe7f5"/><rect x="53.00" y="262.46" width="1.00" height="8.62" fill="#d0e0f2"/><rect x="54.00" y="262.46" width="1.00" height="8.62" fill="#d1e1f3"/><rect x="55.00" y="262.46" width="1.00" height="8.62" fill="#fdded3"/><rect x="56.00" y="262.46" width="1.00" height="8.62" fill="#cedef2"/><rect x="57.00" y="262.46" width="1.00" height="8.62" fill="#e6eef8"/><rect x="59.00" y="262.46" width="1.00" height="8.62" fill="#dee9f6"/><rect x="62.00" y="262.46" width="1.00" height="8.62" fill="#cfdff2"/><rect x="63.00" y="262.46" width="1.00" height="8.62" fill="#dae6f5"/><rect x="64.00" y="262.46" width="1.00" height="8.62" fill="#d7e5f4"/><rect x="65.00" y="262.46" width="1.00" height="8.62" fill="#e6eef8"/><rect x="66.00" y="262.46" width="1.00" height="8.62" fill="#ecf2fa"/><rect x="67.00" y="262.46" width="1.00" height="8.62" fill="#dae6f5"/><rect x="68.00" y="262.46" width="1.00" height="8.62" fill="#d1e0f2"/><rect x="69.00" y="262.46" width="1.00" height="8.62" fill="#e0eaf7"/><rect x="71.00" y="262.46" width="1.00" height="8.62" fill="#e7eff9"/><rect x="73.00" y="262.46" width="1.00" height="8.62" fill="#d8e5f4"/><rect x="75.00" y="262.46" width="1.00" height="8.62" fill="#e3edf7"/><rect x="76.00" y="262.46" width="1.00" height="8.62" fill="#dde8f6"/><rect x="77.00" y="262.46" width="1.00" height="8.62" fill="#e4edf8"/><rect x="88.00" y="262.46" width="0.50" height="8.62" fill="#fef3ef"/><rect x="88.50" y="262.46" width="1.00" height="8.62" fill="#fcd9cd"/><rect x="89.50" y="262.46" width="1.00" height="8.62" fill="#fcdbce"/><rect x="90.50" y="262.46" width="1.00" height="8.62" fill="#fcd9cc"/><rect x="91.50" y="262.46" width="1.00" height="8.62" fill="#fcd6c8"/><rect x="92.50" y="262.46" width="1.00" height="8.62" fill="#fde1d7"/><rect x="93.50" y="262.46" width="0.50" height="8.62" fill="#fcd4c6"/><rect x="95.00" y="262.46" width="1.00" height="8.62" fill="#f1f6fb"/><rect x="96.00" y="262.46" width="1.00" height="8.62" fill="#feefe9"/><rect x="101.00" y="262.46" width="1.00" height="8.62" fill="#fef6f3"/><rect x="105.00" y="262.46" width="1.00" height="8.62" fill="#fde6de"/><rect x="110.00" y="262.46" width="1.00" height="8.62" fill="#eef4fa"/><rect x="115.00" y="262.46" width="1.00" height="8.62" fill="#dce8f5"/><rect x="116.00" y="262.46" width="1.00" height="8.62" fill="#fcdbcf"/><rect x="117.00" y="262.46" width="1.00" height="8.62" fill="#dde8f6"/><rect x="120.00" y="262.46" width="1.00" height="8.62" fill="#fcd5c7"/><rect x="121.00" y="262.46" width="1.00" height="8.62" fill="#fde2d8"/><rect x="123.00" y="262.46" width="1.00" height="8.62" fill="#fde0d6"/><rect x="124.00" y="262.46" width="1.00" height="8.62" fill="#fde0d6"/><rect x="127.00" y="262.46" width="1.00" height="8.62" fill="#fde5dc"/><rect x="128.00" y="262.46" width="1.00" height="8.62" fill="#fde2d9"/><rect x="130.00" y="262.46" width="1.00" height="8.62" fill="#fde1d7"/><rect x="135.00" y="262.46" width="1.00" height="8.62" fill="#fcd4c5"/><rect x="137.00" y="262.46" width="1.00" height="8.62" fill="#fdeae2"/><rect x="142.00" y="262.46" width="1.00" height="8.62" fill="#fde6de"/><rect x="147.00" y="262.46" width="1.00" height="8.62" fill="#fddcd0"/><rect x="150.00" y="262.46" width="1.00" height="8.62" fill="#fde1d7"/><rect x="152.00" y="262.46" width="1.00" height="8.62" fill="#fde1d7"/><rect x="158.00" y="262.46" width="1.00" height="8.62" fill="#feeae3"/><rect x="159.00" y="262.46" width="1.00" height="8.62" fill="#fcd6c8"/><rect x="160.00" y="262.46" width="1.00" height="8.62" fill="#fde4db"/><rect x="163.00" y="262.46" width="1.00" height="8.62" fill="#feede7"/><rect x="165.00" y="262.46" width="1.00" height="8.62" fill="#fcd8cb"/><rect x="167.00" y="262.46" width="1.00" height="8.62" fill="#fcd4c6"/><rect x="170.00" y="262.46" width="1.00" height="8.62" fill="#fcd3c5"/><rect x="172.00" y="262.46" width="1.00" height="8.62" fill="#fde1d7"/><rect x="176.00" y="262.46" width="1.00" height="8.62" fill="#fde9e1"/><rect x="177.00" y="262.46" width="1.00" height="8.62" fill="#feeae3"/><rect x="20.00" y="271.08" width="1.00" height="8.62" fill="#f0f5fb"/><rect x="24.00" y="271.08" width="1.00" height="8.62" fill="#f5f9fc"/><rect x="35.00" y="271.08" width="1.00" height="8.62" fill="#ecf3fa"/><rect x="36.00" y="271.08" width="1.00" height="8.62" fill="#f3f7fc"/><rect x="49.00" y="271.08" width="1.00" height="8.62" fill="#f4f8fc"/><rect x="58.00" y="271.08" width="1.00" height="8.62" fill="#f9fbfd"/><rect x="68.00" y="271.08" width="1.00" height="8.62" fill="#feeee9"/><rect x="78.00" y="271.08" width="1.00" height="8.62" fill="#fef6f3"/><rect x="88.00" y="271.08" width="0.50" height="8.62" fill="#fef1ec"/><rect x="88.50" y="271.08" width="1.00" height="8.62" fill="#feeee8"/><rect x="92.50" y="271.08" width="1.00" height="8.62" fill="#fde3da"/><rect x="95.50" y="271.08" width="1.00" height="8.62" fill="#feece5"/><rect x="104.50" y="271.08" width="1.00" height="8.62" fill="#f3f7fc"/><rect x="119.50" y="271.08" width="1.00" height="8.62" fill="#feefea"/><rect x="122.50" y="271.08" width="1.00" height="8.62" fill="#f3f7fc"/><rect x="128.50" y="271.08" width="1.00" height="8.62" fill="#e8f0f9"/><rect x="130.50" y="271.08" width="1.00" height="8.62" fill="#fef7f5"/><rect x="137.50" y="271.08" width="1.00" height="8.62" fill="#fef3ef"/><rect x="153.50" y="271.08" width="1.00" height="8.62" fill="#fef4f0"/><rect x="160.50" y="271.08" width="1.00" height="8.62" fill="#fffbf9"/><rect x="163.50" y="271.08" width="1.00" height="8.62" fill="#feefea"/><rect x="164.50" y="271.08" width="1.00" height="8.62" fill="#fef6f3"/><rect x="38.00" y="279.70" width="1.00" height="8.62" fill="#fef5f2"/><rect x="40.00" y="279.70" width="1.00" height="8.62" fill="#f2f6fb"/><rect x="80.00" y="279.70" width="1.00" height="8.62" fill="#fef3ef"/><rect x="88.50" y="279.70" width="1.00" height="8.62" fill="#f4f8fc"/><rect x="90.50" y="279.70" width="1.00" height="8.62" fill="#feebe4"/><rect x="93.50" y="279.70" width="1.00" height="8.62" fill="#e9f1f9"/><rect x="96.50" y="279.70" width="1.00" height="8.62" fill="#f2f6fb"/><rect x="104.50" y="279.70" width="1.00" height="8.62" fill="#f1f6fb"/><rect x="107.50" y="279.70" width="1.00" height="8.62" fill="#fef0ea"/><rect x="110.50" y="279.70" width="1.00" height="8.62" fill="#feefea"/><rect x="117.50" y="279.70" width="1.00" height="8.62" fill="#fde9e1"/><rect x="123.50" y="279.70" width="1.00" height="8.62" fill="#fff8f6"/><rect x="128.50" y="279.70" width="1.00" height="8.62" fill="#fef3ef"/><rect x="130.50" y="279.70" width="1.00" height="8.62" fill="#f6f9fd"/><rect x="135.50" y="279.70" width="1.00" height="8.62" fill="#feebe4"/><rect x="137.50" y="279.70" width="1.00" height="8.62" fill="#fef8f5"/><rect x="150.50" y="279.70" width="1.00" height="8.62" fill="#fafbfe"/><rect x="165.50" y="279.70" width="1.00" height="8.62" fill="#e7eff8"/><rect x="172.50" y="279.70" width="1.00" height="8.62" fill="#fff8f6"/><rect x="177.50" y="279.70" width="1.00" height="8.62" fill="#edf3fa"/><rect x="16.00" y="288.32" width="1.00" height="8.62" fill="#ebf2fa"/><rect x="17.00" y="288.32" width="1.00" height="8.62" fill="#dde9f6"/><rect x="18.00" y="288.32" width="1.00" height="8.62" fill="#d1e0f2"/><rect x="19.00" y="288.32" width="1.00" height="8.62" fill="#d5e3f3"/><rect x="20.00" y="288.32" width="1.00" height="8.62" fill="#d7e5f4"/><rect x="21.00" y="288.32" width="1.00" height="8.62" fill="#ebf2fa"/><rect x="22.00" y="288.32" width="1.00" height="8.62" fill="#e2ecf7"/><rect x="24.00" y="288.32" width="1.00" height="8.62" fill="#e9f0f9"/><rect x="25.00" y="288.32" width="1.00" height="8.62" fill="#fddfd4"/><rect x="27.00" y="288.32" width="1.00" height="8.62" fill="#d7e4f4"/><rect x="28.00" y="288.32" width="1.00" height="8.62" fill="#ecf3fa"/><rect x="30.00" y="288.32" width="1.00" height="8.62" fill="#e2ecf7"/><rect x="31.00" y="288.32" width="1.00" height="8.62" fill="#e5eef8"/><rect x="33.00" y="288.32" width="1.00" height="8.62" fill="#e4edf8"/><rect x="34.00" y="288.32" width="1.00" height="8.62" fill="#dfeaf6"/><rect x="35.00" y="288.32" width="1.00" height="8.62" fill="#dde8f6"/><rect x="36.00" y="288.32" width="1.00" height="8.62" fill="#ebf2fa"/><rect x="37.00" y="288.32" width="1.00" height="8.62" fill="#ebf2fa"/><rect x="39.00" y="288.32" width="1.00" height="8.62" fill="#d0e0f2"/><rect x="40.00" y="288.32" width="1.00" height="8.62" fill="#d7e5f4"/><rect x="41.00" y="288.32" width="1.00" height="8.62" fill="#d1e0f2"/><rect x="42.00" y="288.32" width="1.00" height="8.62" fill="#e9f0f9"/><rect x="44.00" y="288.32" width="1.00" height="8.62" fill="#e1ebf7"/><rect x="58.00" y="288.32" width="1.00" height="8.62" fill="#e4edf8"/><rect x="67.00" y="288.32" width="1.00" height="8.62" fill="#e6eef8"/><rect x="72.00" y="288.32" width="1.00" height="8.62" fill="#dfeaf6"/><rect x="89.50" y="288.32" width="1.00" height="8.62" fill="#fde9e2"/><rect x="117.50" y="288.32" width="1.00" height="8.62" fill="#feeae3"/><rect x="124.50" y="288.32" width="1.00" height="8.62" fill="#fef4f1"/><rect x="128.00" y="288.32" width="1.00" height="8.62" fill="#fcd7ca"/><rect x="130.00" y="288.32" width="1.00" height="8.62" fill="#fcd8cb"/><rect x="133.00" y="288.32" width="1.00" height="8.62" fill="#fdddd2"/><rect x="134.00" y="288.32" width="1.00" height="8.62" fill="#fddcd0"/><rect x="135.00" y="288.32" width="1.00" height="8.62" fill="#fde0d5"/><rect x="137.00" y="288.32" width="1.00" height="8.62" fill="#fcd5c7"/><rect x="147.00" y="288.32" width="1.00" height="8.62" fill="#fddcd1"/><rect x="150.00" y="288.32" width="1.00" height="8.62" fill="#fde7df"/><rect x="151.00" y="288.32" width="1.00" height="8.62" fill="#fde3d9"/><rect x="152.00" y="288.32" width="1.00" height="8.62" fill="#fde4db"/><rect x="157.00" y="288.32" width="1.00" height="8.62" fill="#fdddd2"/><rect x="159.00" y="288.32" width="1.00" height="8.62" fill="#fde3da"/><rect x="160.00" y="288.32" width="1.00" height="8.62" fill="#fcd2c3"/><rect x="163.00" y="288.32" width="1.00" height="8.62" fill="#feebe5"/><rect x="164.00" y="288.32" width="1.00" height="8.62" fill="#feede7"/><rect x="165.00" y="288.32" width="1.00" height="8.62" fill="#fde5dc"/><rect x="174.00" y="288.32" width="1.00" height="8.62" fill="#fde1d7"/><rect x="175.00" y="288.32" width="1.00" height="8.62" fill="#fde5dc"/><rect x="176.00" y="288.32" width="1.00" height="8.62" fill="#fde7df"/><rect x="18.00" y="296.94" width="1.00" height="8.62" fill="#dde9f6"/><rect x="26.00" y="296.94" width="1.00" height="8.62" fill="#eff4fb"/><rect x="31.00" y="296.94" width="1.00" height="8.62" fill="#dee9f6"/><rect x="38.00" y="296.94" width="1.00" height="8.62" fill="#e9f1f9"/><rect x="39.00" y="296.94" width="1.00" height="8.62" fill="#e9f0f9"/><rect x="47.00" y="296.94" width="1.00" height="8.62" fill="#fef1ec"/><rect x="52.00" y="296.94" width="1.00" height="8.62" fill="#d9e6f5"/><rect x="54.00" y="296.94" width="1.00" height="8.62" fill="#d9e6f5"/><rect x="55.00" y="296.94" width="1.00" height="8.62" fill="#ebf1f9"/><rect x="60.00" y="296.94" width="1.00" height="8.62" fill="#ebf2fa"/><rect x="66.00" y="296.94" width="1.00" height="8.62" fill="#dbe7f5"/><rect x="71.00" y="296.94" width="1.00" height="8.62" fill="#dbe7f5"/><rect x="76.00" y="296.94" width="1.00" height="8.62" fill="#e6eef8"/><rect x="78.00" y="296.94" width="1.00" height="8.62" fill="#e1ebf7"/><rect x="86.00" y="296.94" width="1.00" height="8.62" fill="#e5eef8"/><rect x="88.50" y="296.94" width="1.00" height="8.62" fill="#feede7"/><rect x="89.50" y="296.94" width="1.00" height="8.62" fill="#fef5f1"/><rect x="90.50" y="296.94" width="1.00" height="8.62" fill="#feeae3"/><rect x="101.00" y="296.94" width="1.00" height="8.62" fill="#fde1d7"/><rect x="104.00" y="296.94" width="1.00" height="8.62" fill="#fcd3c4"/><rect x="105.00" y="296.94" width="1.00" height="8.62" fill="#fde7df"/><rect x="107.00" y="296.94" width="1.00" height="8.62" fill="#e3edf7"/><rect x="113.00" y="296.94" width="1.00" height="8.62" fill="#fdddd2"/><rect x="114.00" y="296.94" width="1.00" height="8.62" fill="#fde1d7"/><rect x="115.00" y="296.94" width="1.00" height="8.62" fill="#feebe4"/><rect x="116.00" y="296.94" width="1.00" height="8.62" fill="#fcdbcf"/><rect x="117.00" y="296.94" width="1.00" height="8.62" fill="#fcd9cc"/><rect x="119.00" y="296.94" width="1.00" height="8.62" fill="#fde3da"/><rect x="120.00" y="296.94" width="1.00" height="8.62" fill="#fde4db"/><rect x="121.00" y="296.94" width="1.00" height="8.62" fill="#fde3d9"/><rect x="124.00" y="296.94" width="1.00" height="8.62" fill="#fcd9cc"/><rect x="125.00" y="296.94" width="1.00" height="8.62" fill="#d4e2f3"/><rect x="127.00" y="296.94" width="1.00" height="8.62" fill="#fde1d6"/><rect x="128.00" y="296.94" width="1.00" height="8.62" fill="#fde8e0"/><rect x="129.00" y="296.94" width="1.00" height="8.62" fill="#fde8e0"/><rect x="130.00" y="296.94" width="1.00" height="8.62" fill="#fde4db"/><rect x="131.00" y="296.94" width="1.00" height="8.62" fill="#fdded3"/><rect x="133.00" y="296.94" width="1.00" height="8.62" fill="#fdded3"/><rect x="134.00" y="296.94" width="1.00" height="8.62" fill="#fdddd2"/><rect x="135.00" y="296.94" width="1.00" height="8.62" fill="#e2ecf7"/><rect x="136.00" y="296.94" width="1.00" height="8.62" fill="#feede8"/><rect x="137.00" y="296.94" width="1.00" height="8.62" fill="#fdded3"/><rect x="142.00" y="296.94" width="1.00" height="8.62" fill="#feebe4"/><rect x="147.00" y="296.94" width="1.00" height="8.62" fill="#fde9e1"/><rect x="150.00" y="296.94" width="1.00" height="8.62" fill="#fcd6c8"/><rect x="151.00" y="296.94" width="1.00" height="8.62" fill="#fde7de"/><rect x="158.00" y="296.94" width="1.00" height="8.62" fill="#fde7df"/><rect x="163.00" y="296.94" width="1.00" height="8.62" fill="#fde9e2"/><rect x="165.00" y="296.94" width="1.00" height="8.62" fill="#feeee8"/><rect x="170.00" y="296.94" width="1.00" height="8.62" fill="#fde6de"/><rect x="171.00" y="296.94" width="1.00" height="8.62" fill="#fef1ed"/><rect x="172.00" y="296.94" width="1.00" height="8.62" fill="#feeee8"/><rect x="175.00" y="296.94" width="1.00" height="8.62" fill="#fef5f1"/><rect x="176.00" y="296.94" width="1.00" height="8.62" fill="#feeee8"/><rect x="16.00" y="305.56" width="1.00" height="8.62" fill="#ecf2fa"/><rect x="19.00" y="305.56" width="1.00" height="8.62" fill="#e7eff9"/><rect x="20.00" y="305.56" width="1.00" height="8.62" fill="#fef1ec"/><rect x="22.00" y="305.56" width="1.00" height="8.62" fill="#e4edf8"/><rect x="25.00" y="305.56" width="1.00" height="8.62" fill="#dfeaf6"/><rect x="27.00" y="305.56" width="1.00" height="8.62" fill="#fef4f1"/><rect x="33.00" y="305.56" width="1.00" height="8.62" fill="#eaf1f9"/><rect x="39.00" y="305.56" width="1.00" height="8.62" fill="#f0f5fb"/><rect x="40.00" y="305.56" width="1.00" height="8.62" fill="#f4f8fc"/><rect x="41.00" y="305.56" width="1.00" height="8.62" fill="#feebe5"/><rect x="44.00" y="305.56" width="1.00" height="8.62" fill="#e7eff8"/><rect x="45.00" y="305.56" width="1.00" height="8.62" fill="#dce8f6"/><rect x="46.00" y="305.56" width="1.00" height="8.62" fill="#e2ecf7"/><rect x="48.00" y="305.56" width="1.00" height="8.62" fill="#e5eef8"/><rect x="56.00" y="305.56" width="1.00" height="8.62" fill="#e9f1f9"/><rect x="59.00" y="305.56" width="1.00" height="8.62" fill="#fde4db"/><rect x="64.00" y="305.56" width="1.00" height="8.62" fill="#feece5"/><rect x="77.00" y="305.56" width="1.00" height="8.62" fill="#e7eff8"/><rect x="88.50" y="305.56" width="1.00" height="8.62" fill="#fde0d6"/><rect x="89.50" y="305.56" width="1.00" height="8.62" fill="#fde5dc"/><rect x="91.50" y="305.56" width="1.00" height="8.62" fill="#fcdbcf"/><rect x="92.50" y="305.56" width="1.00" height="8.62" fill="#fcd2c3"/><rect x="93.50" y="305.56" width="1.00" height="8.62" fill="#fde1d6"/><rect x="95.50" y="305.56" width="1.00" height="8.62" fill="#feece6"/><rect x="96.50" y="305.56" width="1.00" height="8.62" fill="#fcd1c1"/><rect x="103.50" y="305.56" width="1.00" height="8.62" fill="#f1f6fb"/><rect x="105.50" y="305.56" width="1.00" height="8.62" fill="#fde3da"/><rect x="106.50" y="305.56" width="1.00" height="8.62" fill="#fef1ec"/><rect x="107.50" y="305.56" width="1.00" height="8.62" fill="#feebe4"/><rect x="109.50" y="305.56" width="1.00" height="8.62" fill="#feefe9"/><rect x="113.50" y="305.56" width="1.00" height="8.62" fill="#fef1ec"/><rect x="114.50" y="305.56" width="1.00" height="8.62" fill="#fcd5c6"/><rect x="116.50" y="305.56" width="1.00" height="8.62" fill="#feeae3"/><rect x="117.50" y="305.56" width="1.00" height="8.62" fill="#fde7df"/><rect x="121.50" y="305.56" width="1.00" height="8.62" fill="#fcd6c8"/><rect x="122.50" y="305.56" width="1.00" height="8.62" fill="#fde8e0"/><rect x="124.50" y="305.56" width="1.00" height="8.62" fill="#fcd8cb"/><rect x="127.50" y="305.56" width="1.00" height="8.62" fill="#fcdacd"/><rect x="130.50" y="305.56" width="1.00" height="8.62" fill="#fcd6c8"/><rect x="135.50" y="305.56" width="1.00" height="8.62" fill="#fcd7ca"/><rect x="137.50" y="305.56" width="1.00" height="8.62" fill="#fde9e2"/><rect x="138.50" y="305.56" width="1.00" height="8.62" fill="#fde1d7"/><rect x="142.50" y="305.56" width="1.00" height="8.62" fill="#fde2d9"/><rect x="147.50" y="305.56" width="1.00" height="8.62" fill="#cddef1"/><rect x="150.50" y="305.56" width="1.00" height="8.62" fill="#fdded3"/><rect x="151.50" y="305.56" width="1.00" height="8.62" fill="#fddcd1"/><rect x="152.50" y="305.56" width="1.00" height="8.62" fill="#fcd6c8"/><rect x="163.50" y="305.56" width="1.00" height="8.62" fill="#feeee9"/><rect x="164.50" y="305.56" width="1.00" height="8.62" fill="#fde5dc"/><rect x="165.50" y="305.56" width="1.00" height="8.62" fill="#feede7"/><rect x="166.50" y="305.56" width="1.00" height="8.62" fill="#fddcd0"/><rect x="172.50" y="305.56" width="1.00" height="8.62" fill="#feece6"/><rect x="175.50" y="305.56" width="1.00" height="8.62" fill="#fddcd0"/><rect x="176.50" y="305.56" width="1.00" height="8.62" fill="#d0e0f2"/></g><rect x="15.7" y="13.2" width="72.8" height="5.6" fill="#c9797f"/><rect x="88.5" y="13.2" width="91.5" height="5.6" fill="#b9cfe9"/><text x="182" y="19.2" font-size="5.77" font-weight="bold" font-family="Liberation Sans, sans-serif" fill="#000">Group(metabolite)</text><text x="182" y="27.41" font-size="5.72" class="hl" font-family="Liberation Sans, sans-serif">Lactobacillus</text><text x="182" y="36.03" font-size="5.72" class="hl" font-family="Liberation Sans, sans-serif">Dialister</text><text x="182" y="44.65" font-size="5.72" class="hl" font-family="Liberation Sans, sans-serif">Hoylesella</text><text x="182" y="53.27" font-size="5.72" class="hl" font-family="Liberation Sans, sans-serif">Prevotella</text><text x="182" y="61.89" font-size="5.72" class="hl" font-family="Liberation Sans, sans-serif">Mageeibacillus</text><text x="182" y="70.51" font-size="5.72" class="hl" font-family="Liberation Sans, sans-serif">Corynebacterium</text><text x="182" y="79.13" font-size="5.72" class="hl" font-family="Liberation Sans, sans-serif">Finegoldia</text><text x="182" y="87.75" font-size="5.72" class="hl" font-family="Liberation Sans, sans-serif">Sneathia</text><text x="182" y="96.37" font-size="5.72" class="hl" font-family="Liberation Sans, sans-serif">Megasphaera</text><text x="182" y="104.99" font-size="5.72" class="hl" font-family="Liberation Sans, sans-serif">Parasutterella</text><text x="182" y="113.61" font-size="5.72" class="hl" font-family="Liberation Sans, sans-serif">Segatella</text><text x="182" y="122.23" font-size="5.72" class="hl" font-family="Liberation Sans, sans-serif">Cutibacterium</text><text x="182" y="130.85" font-size="5.72" class="hl" font-family="Liberation Sans, sans-serif">Brevibacterium</text><text x="182" y="139.47" font-size="5.72" class="hl" font-family="Liberation Sans, sans-serif">Schaalia</text><text x="182" y="148.09" font-size="5.72" class="hl" font-family="Liberation Sans, sans-serif">Peptoniphilus</text><text x="182" y="156.71" font-size="5.72" class="hl" font-family="Liberation Sans, sans-serif">Gardnerella</text><text x="182" y="165.33" font-size="5.72" class="hl" font-family="Liberation Sans, sans-serif">Porphyromonas</text><text x="182" y="173.95" font-size="5.72" class="hl" font-family="Liberation Sans, sans-serif">Hallella</text><text x="182" y="182.57" font-size="5.72" class="hl" font-family="Liberation Sans, sans-serif">Anaerococcus</text><text x="182" y="191.19" font-size="5.72" class="hl" font-family="Liberation Sans, sans-serif">Metamycoplasma</text><text x="182" y="199.81" font-size="5.72" class="hl" font-family="Liberation Sans, sans-serif">Haemophilus</text><text x="182" y="208.43" font-size="5.72" class="hl" font-family="Liberation Sans, sans-serif">Peptostreptococcus</text><text x="182" y="217.05" font-size="5.72" class="hl" font-family="Liberation Sans, sans-serif">Granulicatella</text><text x="182" y="225.67" font-size="5.72" class="hl" font-family="Liberation Sans, sans-serif">Streptococcus</text><text x="182" y="234.29" font-size="5.72" class="hl" font-family="Liberation Sans, sans-serif">Bifidobacterium</text><text x="182" y="242.91" font-size="5.72" class="hl" font-family="Liberation Sans, sans-serif">Fannyhessea</text><text x="182" y="251.53" font-size="5.72" class="hl" font-family="Liberation Sans, sans-serif">Proteus</text><text x="182" y="260.15" font-size="5.72" class="hl" font-family="Liberation Sans, sans-serif">Aerococcus</text><text x="182" y="268.77" font-size="5.72" class="hl" font-family="Liberation Sans, sans-serif">Mobiluncus</text><text x="182" y="277.39" font-size="5.72" class="hl" font-family="Liberation Sans, sans-serif">Fusobacterium</text><text x="182" y="286.01" font-size="5.72" class="hl" font-family="Liberation Sans, sans-serif">Limosilactobacillus</text><text x="182" y="294.63" font-size="5.72" class="hl" font-family="Liberation Sans, sans-serif">Veillonella</text><text x="182" y="303.25" font-size="5.72" class="hl" font-family="Liberation Sans, sans-serif">Enterobacter</text><text x="182" y="311.87" font-size="5.72" class="hl" font-family="Liberation Sans, sans-serif">Enterococcus</text><rect x="237" y="12.8" width="7" height="44.8" fill="#fbc6b0"/><rect x="237" y="57.6" width="7" height="61.9" fill="#bcd2ec"/><text x="247.2" y="23.70" font-size="5.72" font-family="Liberation Sans, sans-serif" fill="#222">4</text><text x="247.2" y="41.50" font-size="5.72" font-family="Liberation Sans, sans-serif" fill="#222">2</text><text x="247.2" y="59.30" font-size="5.72" font-family="Liberation Sans, sans-serif" fill="#222">0</text><text x="247.2" y="77.30" font-size="5.72" font-family="Liberation Sans, sans-serif" fill="#222">−2</text><text x="247.2" y="95.30" font-size="5.72" font-family="Liberation Sans, sans-serif" fill="#222">−4</text><text x="247.2" y="113.30" font-size="5.72" font-family="Liberation Sans, sans-serif" fill="#222">−6</text><text x="223.1" y="126.2" font-size="5.64" font-family="Liberation Sans, sans-serif" fill="#111">spearman rho coefficient</text><text x="253.8" y="17" font-size="5.63" font-weight="bold" font-family="Liberation Sans, sans-serif" fill="#000">Group</text><rect x="253.8" y="18.6" width="8.5" height="8.2" fill="#b9cfe9"/><rect x="253.8" y="26.9" width="8.5" height="8.2" fill="#c9797f"/><text x="263.8" y="24.9" font-size="5.7" font-family="Liberation Sans, sans-serif" fill="#111">HPV_C−enriched</text><text x="263.8" y="33.3" font-size="5.74" font-family="Liberation Sans, sans-serif" fill="#111">HPV_PH−enriched</text><text x="-0.2" y="17.1" font-size="8.4" font-weight="bold" font-family="Liberation Sans, sans-serif" fill="#000">A</text><path d="M 341.40 69.20 L 387.50 69.20 C 443.75 69.20 443.75 22.00 500.00 22.00 L 705.20 22.00 L 705.20 26.00 L 500.00 26.00 C 443.75 26.00 443.75 73.15 387.50 73.15 L 341.40 73.15 Z" fill="#b9d0ea" fill-opacity="0.50"/><path d="M 341.40 85.29 L 387.50 85.29 C 443.75 85.29 443.75 38.30 500.00 38.30 L 705.20 38.30 L 705.20 48.30 L 500.00 48.30 C 443.75 48.30 443.75 95.16 387.50 95.16 L 341.40 95.16 Z" fill="#b9d0ea" fill-opacity="0.50"/><path d="M 341.40 14.20 L 387.50 14.20 C 443.75 14.20 443.75 48.30 500.00 48.30 L 705.20 48.30 L 705.20 61.50 L 500.00 61.50 C 443.75 61.50 443.75 28.02 387.50 28.02 L 341.40 28.02 Z" fill="#b9d0ea" fill-opacity="0.50"/><path d="M 341.40 28.02 L 387.50 28.02 C 443.75 28.02 443.75 61.50 500.00 61.50 L 705.20 61.50 L 705.20 75.30 L 500.00 75.30 C 443.75 75.30 443.75 42.46 387.50 42.46 L 341.40 42.46 Z" fill="#b9d0ea" fill-opacity="0.50"/><path d="M 341.40 95.16 L 387.50 95.16 C 443.75 95.16 443.75 75.30 500.00 75.30 L 705.20 75.30 L 705.20 81.80 L 500.00 81.80 C 443.75 81.80 443.75 101.57 387.50 101.57 L 341.40 101.57 Z" fill="#b9d0ea" fill-opacity="0.50"/><path d="M 341.40 101.57 L 387.50 101.57 C 443.75 101.57 443.75 81.80 500.00 81.80 L 705.20 81.80 L 705.20 88.10 L 500.00 88.10 C 443.75 88.10 443.75 107.79 387.50 107.79 L 341.40 107.79 Z" fill="#b9d0ea" fill-opacity="0.50"/><path d="M 341.40 107.79 L 387.50 107.79 C 443.75 107.79 443.75 88.10 500.00 88.10 L 705.20 88.10 L 705.20 96.50 L 500.00 96.50 C 443.75 96.50 443.75 116.09 387.50 116.09 L 341.40 116.09 Z" fill="#b9d0ea" fill-opacity="0.50"/><path d="M 341.40 116.09 L 387.50 116.09 C 443.75 116.09 443.75 96.50 500.00 96.50 L 705.20 96.50 L 705.20 103.30 L 500.00 103.30 C 443.75 103.30 443.75 122.80 387.50 122.80 L 341.40 122.80 Z" fill="#b9d0ea" fill-opacity="0.50"/><path d="M 341.40 122.80 L 387.50 122.80 C 443.75 122.80 443.75 103.30 500.00 103.30 L 705.20 103.30 L 705.20 112.10 L 500.00 112.10 C 443.75 112.10 443.75 131.48 387.50 131.48 L 341.40 131.48 Z" fill="#b9d0ea" fill-opacity="0.50"/><path d="M 341.40 42.46 L 387.50 42.46 C 443.75 42.46 443.75 112.10 500.00 112.10 L 705.20 112.10 L 705.20 118.60 L 500.00 118.60 C 443.75 118.60 443.75 49.26 387.50 49.26 L 341.40 49.26 Z" fill="#b9d0ea" fill-opacity="0.50"/><path d="M 341.40 131.48 L 387.50 131.48 C 443.75 131.48 443.75 118.60 500.00 118.60 L 705.20 118.60 L 705.20 128.40 L 500.00 128.40 C 443.75 128.40 443.75 141.16 387.50 141.16 L 341.40 141.16 Z" fill="#b9d0ea" fill-opacity="0.50"/><path d="M 341.40 141.16 L 387.50 141.16 C 443.75 141.16 443.75 128.40 500.00 128.40 L 705.20 128.40 L 705.20 137.00 L 500.00 137.00 C 443.75 137.00 443.75 149.65 387.50 149.65 L 341.40 149.65 Z" fill="#b9d0ea" fill-opacity="0.50"/><path d="M 341.40 149.65 L 387.50 149.65 C 443.75 149.65 443.75 151.20 500.00 151.20 L 705.20 151.20 L 705.20 158.10 L 500.00 158.10 C 443.75 158.10 443.75 156.46 387.50 156.46 L 341.40 156.46 Z" fill="#b9d0ea" fill-opacity="0.50"/><path d="M 341.40 282.50 L 387.50 282.50 C 443.75 282.50 443.75 158.10 500.00 158.10 L 705.20 158.10 L 705.20 171.30 L 500.00 171.30 C 443.75 171.30 443.75 296.00 387.50 296.00 L 341.40 296.00 Z" fill="#b9d0ea" fill-opacity="0.50"/><path d="M 341.40 156.46 L 387.50 156.46 C 443.75 156.46 443.75 171.30 500.00 171.30 L 705.20 171.30 L 705.20 176.70 L 500.00 176.70 C 443.75 176.70 443.75 161.79 387.50 161.79 L 341.40 161.79 Z" fill="#b9d0ea" fill-opacity="0.50"/><path d="M 341.40 161.79 L 387.50 161.79 C 443.75 161.79 443.75 176.70 500.00 176.70 L 705.20 176.70 L 705.20 183.20 L 500.00 183.20 C 443.75 183.20 443.75 168.20 387.50 168.20 L 341.40 168.20 Z" fill="#b9d0ea" fill-opacity="0.50"/><path d="M 341.40 168.20 L 387.50 168.20 C 443.75 168.20 443.75 183.20 500.00 183.20 L 705.20 183.20 L 705.20 190.30 L 500.00 190.30 C 443.75 190.30 443.75 175.21 387.50 175.21 L 341.40 175.21 Z" fill="#b9d0ea" fill-opacity="0.50"/><path d="M 341.40 175.21 L 387.50 175.21 C 443.75 175.21 443.75 190.30 500.00 190.30 L 705.20 190.30 L 705.20 201.50 L 500.00 201.50 C 443.75 201.50 443.75 186.27 387.50 186.27 L 341.40 186.27 Z" fill="#b9d0ea" fill-opacity="0.50"/><path d="M 341.40 186.27 L 387.50 186.27 C 443.75 186.27 443.75 201.50 500.00 201.50 L 705.20 201.50 L 705.20 210.40 L 500.00 210.40 C 443.75 210.40 443.75 195.05 387.50 195.05 L 341.40 195.05 Z" fill="#b9d0ea" fill-opacity="0.50"/><path d="M 341.40 49.26 L 387.50 49.26 C 443.75 49.26 443.75 210.40 500.00 210.40 L 705.20 210.40 L 705.20 221.90 L 500.00 221.90 C 443.75 221.90 443.75 61.30 387.50 61.30 L 341.40 61.30 Z" fill="#b9d0ea" fill-opacity="0.50"/><path d="M 341.40 195.05 L 387.50 195.05 C 443.75 195.05 443.75 221.90 500.00 221.90 L 705.20 221.90 L 705.20 232.90 L 500.00 232.90 C 443.75 232.90 443.75 205.91 387.50 205.91 L 341.40 205.91 Z" fill="#b9d0ea" fill-opacity="0.50"/><path d="M 341.40 205.91 L 387.50 205.91 C 443.75 205.91 443.75 232.90 500.00 232.90 L 705.20 232.90 L 705.20 240.80 L 500.00 240.80 C 443.75 240.80 443.75 213.71 387.50 213.71 L 341.40 213.71 Z" fill="#b9d0ea" fill-opacity="0.50"/><path d="M 341.40 213.71 L 387.50 213.71 C 443.75 213.71 443.75 240.80 500.00 240.80 L 705.20 240.80 L 705.20 249.80 L 500.00 249.80 C 443.75 249.80 443.75 222.60 387.50 222.60 L 341.40 222.60 Z" fill="#b9d0ea" fill-opacity="0.50"/><path d="M 341.40 222.60 L 387.50 222.60 C 443.75 222.60 443.75 249.80 500.00 249.80 L 705.20 249.80 L 705.20 258.80 L 500.00 258.80 C 443.75 258.80 443.75 231.48 387.50 231.48 L 341.40 231.48 Z" fill="#b9d0ea" fill-opacity="0.50"/><path d="M 341.40 246.48 L 387.50 246.48 C 443.75 246.48 443.75 274.00 500.00 274.00 L 705.20 274.00 L 705.20 282.20 L 500.00 282.20 C 443.75 282.20 443.75 254.58 387.50 254.58 L 341.40 254.58 Z" fill="#b9d0ea" fill-opacity="0.50"/><path d="M 341.40 254.58 L 387.50 254.58 C 443.75 254.58 443.75 282.20 500.00 282.20 L 705.20 282.20 L 705.20 290.00 L 500.00 290.00 C 443.75 290.00 443.75 262.28 387.50 262.28 L 341.40 262.28 Z" fill="#b9d0ea" fill-opacity="0.50"/><path d="M 341.40 262.28 L 387.50 262.28 C 443.75 262.28 443.75 290.00 500.00 290.00 L 705.20 290.00 L 705.20 296.00 L 500.00 296.00 C 443.75 296.00 443.75 268.20 387.50 268.20 L 341.40 268.20 Z" fill="#b9d0ea" fill-opacity="0.50"/><path d="M 341.40 61.30 L 387.50 61.30 C 443.75 61.30 443.75 14.00 500.00 14.00 L 705.20 14.00 L 705.20 22.00 L 500.00 22.00 C 443.75 22.00 443.75 69.20 387.50 69.20 L 341.40 69.20 Z" fill="#c87a80" fill-opacity="0.50"/><path d="M 341.40 73.15 L 387.50 73.15 C 443.75 73.15 443.75 26.00 500.00 26.00 L 705.20 26.00 L 705.20 38.30 L 500.00 38.30 C 443.75 38.30 443.75 85.29 387.50 85.29 L 341.40 85.29 Z" fill="#c87a80" fill-opacity="0.50"/><path d="M 341.40 268.20 L 387.50 268.20 C 443.75 268.20 443.75 137.00 500.00 137.00 L 705.20 137.00 L 705.20 151.20 L 500.00 151.20 C 443.75 151.20 443.75 282.50 387.50 282.50 L 341.40 282.50 Z" fill="#c87a80" fill-opacity="0.50"/><path d="M 341.40 231.48 L 387.50 231.48 C 443.75 231.48 443.75 258.80 500.00 258.80 L 705.20 258.80 L 705.20 274.00 L 500.00 274.00 C 443.75 274.00 443.75 246.48 387.50 246.48 L 341.40 246.48 Z" fill="#c87a80" fill-opacity="0.50"/><rect x="341.40" y="14.20" width="46.10" height="47.10" fill="#ffffff" fill-opacity="0.35" stroke="#1a1a1a" stroke-width="0.95"/><rect x="341.40" y="61.30" width="46.10" height="206.90" fill="#ffffff" fill-opacity="0.35" stroke="#1a1a1a" stroke-width="0.95"/><rect x="341.40" y="268.20" width="46.10" height="14.30" fill="#ffffff" fill-opacity="0.35" stroke="#1a1a1a" stroke-width="0.95"/><rect x="341.40" y="282.50" width="46.10" height="13.50" fill="#ffffff" fill-opacity="0.35" stroke="#1a1a1a" stroke-width="0.95"/><rect x="500.00" y="14.00" width="46.50" height="8.00" fill="#ffffff" fill-opacity="0.35" stroke="#1a1a1a" stroke-width="0.95"/><rect x="500.00" y="22.00" width="46.50" height="4.00" fill="#ffffff" fill-opacity="0.35" stroke="#1a1a1a" stroke-width="0.95"/><rect x="500.00" y="26.00" width="46.50" height="12.30" fill="#ffffff" fill-opacity="0.35" stroke="#1a1a1a" stroke-width="0.95"/><rect x="500.00" y="38.30" width="46.50" height="10.00" fill="#ffffff" fill-opacity="0.35" stroke="#1a1a1a" stroke-width="0.95"/><rect x="500.00" y="48.30" width="46.50" height="13.20" fill="#ffffff" fill-opacity="0.35" stroke="#1a1a1a" stroke-width="0.95"/><rect x="500.00" y="61.50" width="46.50" height="13.80" fill="#ffffff" fill-opacity="0.35" stroke="#1a1a1a" stroke-width="0.95"/><rect x="500.00" y="75.30" width="46.50" height="6.50" fill="#ffffff" fill-opacity="0.35" stroke="#1a1a1a" stroke-width="0.95"/><rect x="500.00" y="81.80" width="46.50" height="6.30" fill="#ffffff" fill-opacity="0.35" stroke="#1a1a1a" stroke-width="0.95"/><rect x="500.00" y="88.10" width="46.50" height="8.40" fill="#ffffff" fill-opacity="0.35" stroke="#1a1a1a" stroke-width="0.95"/><rect x="500.00" y="96.50" width="46.50" height="6.80" fill="#ffffff" fill-opacity="0.35" stroke="#1a1a1a" stroke-width="0.95"/><rect x="500.00" y="103.30" width="46.50" height="8.80" fill="#ffffff" fill-opacity="0.35" stroke="#1a1a1a" stroke-width="0.95"/><rect x="500.00" y="112.10" width="46.50" height="6.50" fill="#ffffff" fill-opacity="0.35" stroke="#1a1a1a" stroke-width="0.95"/><rect x="500.00" y="118.60" width="46.50" height="9.80" fill="#ffffff" fill-opacity="0.35" stroke="#1a1a1a" stroke-width="0.95"/><rect x="500.00" y="128.40" width="46.50" height="8.60" fill="#ffffff" fill-opacity="0.35" stroke="#1a1a1a" stroke-width="0.95"/><rect x="500.00" y="137.00" width="46.50" height="14.20" fill="#ffffff" fill-opacity="0.35" stroke="#1a1a1a" stroke-width="0.95"/><rect x="500.00" y="151.20" width="46.50" height="6.90" fill="#ffffff" fill-opacity="0.35" stroke="#1a1a1a" stroke-width="0.95"/><rect x="500.00" y="158.10" width="46.50" height="13.20" fill="#ffffff" fill-opacity="0.35" stroke="#1a1a1a" stroke-width="0.95"/><rect x="500.00" y="171.30" width="46.50" height="5.40" fill="#ffffff" fill-opacity="0.35" stroke="#1a1a1a" stroke-width="0.95"/><rect x="500.00" y="176.70" width="46.50" height="6.50" fill="#ffffff" fill-opacity="0.35" stroke="#1a1a1a" stroke-width="0.95"/><rect x="500.00" y="183.20" width="46.50" height="7.10" fill="#ffffff" fill-opacity="0.35" stroke="#1a1a1a" stroke-width="0.95"/><rect x="500.00" y="190.30" width="46.50" height="11.20" fill="#ffffff" fill-opacity="0.35" stroke="#1a1a1a" stroke-width="0.95"/><rect x="500.00" y="201.50" width="46.50" height="8.90" fill="#ffffff" fill-opacity="0.35" stroke="#1a1a1a" stroke-width="0.95"/><rect x="500.00" y="210.40" width="46.50" height="11.50" fill="#ffffff" fill-opacity="0.35" stroke="#1a1a1a" stroke-width="0.95"/><rect x="500.00" y="221.90" width="46.50" height="11.00" fill="#ffffff" fill-opacity="0.35" stroke="#1a1a1a" stroke-width="0.95"/><rect x="500.00" y="232.90" width="46.50" height="7.90" fill="#ffffff" fill-opacity="0.35" stroke="#1a1a1a" stroke-width="0.95"/><rect x="500.00" y="240.80" width="46.50" height="9.00" fill="#ffffff" fill-opacity="0.35" stroke="#1a1a1a" stroke-width="0.95"/><rect x="500.00" y="249.80" width="46.50" height="9.00" fill="#ffffff" fill-opacity="0.35" stroke="#1a1a1a" stroke-width="0.95"/><rect x="500.00" y="258.80" width="46.50" height="15.20" fill="#ffffff" fill-opacity="0.35" stroke="#1a1a1a" stroke-width="0.95"/><rect x="500.00" y="274.00" width="46.50" height="8.20" fill="#ffffff" fill-opacity="0.35" stroke="#1a1a1a" stroke-width="0.95"/><rect x="500.00" y="282.20" width="46.50" height="7.80" fill="#ffffff" fill-opacity="0.35" stroke="#1a1a1a" stroke-width="0.95"/><rect x="500.00" y="290.00" width="46.50" height="6.00" fill="#ffffff" fill-opacity="0.35" stroke="#1a1a1a" stroke-width="0.95"/><rect x="658.60" y="14.00" width="46.60" height="282.00" fill="#ffffff" fill-opacity="0.35" stroke="#1a1a1a" stroke-width="0.95"/><rect x="353.80" y="35.35" width="21.60" height="4.30" rx="0.6" fill="#f0f0f0" stroke="#1e1e1e" stroke-width="0.8"/><text x="355.10" y="38.90" font-size="4.00" class="lb" font-family="Liberation Sans, sans-serif" textLength="19.00" lengthAdjust="spacingAndGlyphs">Gardnerella</text><rect x="353.55" y="162.60" width="22.10" height="4.30" rx="0.6" fill="#f0f0f0" stroke="#1e1e1e" stroke-width="0.8"/><text x="354.85" y="166.15" font-size="4.00" class="lb" font-family="Liberation Sans, sans-serif" textLength="19.50" lengthAdjust="spacingAndGlyphs">Lactobacillus</text><rect x="352.45" y="273.20" width="24.30" height="4.30" rx="0.6" fill="#f0f0f0" stroke="#1e1e1e" stroke-width="0.8"/><text x="353.75" y="276.75" font-size="4.00" class="lb" font-family="Liberation Sans, sans-serif" textLength="21.70" lengthAdjust="spacingAndGlyphs">Megasphaera</text><rect x="356.05" y="287.10" width="17.10" height="4.30" rx="0.6" fill="#f0f0f0" stroke="#1e1e1e" stroke-width="0.8"/><text x="357.35" y="290.65" font-size="4.00" class="lb" font-family="Liberation Sans, sans-serif" textLength="14.50" lengthAdjust="spacingAndGlyphs">Sneathia</text><rect x="672.90" y="152.85" width="18.00" height="4.30" rx="0.6" fill="#f0f0f0" stroke="#1e1e1e" stroke-width="0.8"/><text x="674.20" y="156.40" font-size="4.00" class="lb" font-family="Liberation Sans, sans-serif" textLength="15.40" lengthAdjust="spacingAndGlyphs">HPV_PH</text><rect x="396.25" y="16.60" width="254.00" height="4.30" rx="0.6" fill="#f0f0f0" stroke="#1e1e1e" stroke-width="0.8"/><text x="397.55" y="20.15" font-size="4.00" class="lb" font-family="Liberation Sans, sans-serif" textLength="251.40" lengthAdjust="spacingAndGlyphs">neg9271_butyl-amide)phenyl-indol(hydroxy-oxo(methyl-chlorobutyl(chloro-amide-neg-propyl)chloro-butyl-butyl)amide)indol,carbox-tetra-butyl,yl-hydro,dimet</text><rect x="500.45" y="22.45" width="45.60" height="4.30" rx="0.6" fill="#f0f0f0" stroke="#1e1e1e" stroke-width="0.8"/><text x="501.75" y="26.00" font-size="4.00" class="lb" font-family="Liberation Sans, sans-serif" textLength="43.00" lengthAdjust="spacingAndGlyphs">neg587_methyl-pyridin-oxom</text><rect x="506.85" y="30.10" width="32.80" height="4.30" rx="0.6" fill="#f0f0f0" stroke="#1e1e1e" stroke-width="0.8"/><text x="508.15" y="33.65" font-size="4.00" class="lb" font-family="Liberation Sans, sans-serif" textLength="30.20" lengthAdjust="spacingAndGlyphs">pos3598_propyl-car</text><rect x="489.20" y="41.60" width="68.10" height="4.30" rx="0.6" fill="#f0f0f0" stroke="#1e1e1e" stroke-width="0.8"/><text x="490.50" y="45.15" font-size="4.00" class="lb" font-family="Liberation Sans, sans-serif" textLength="65.50" lengthAdjust="spacingAndGlyphs">neg6977_methyl)tetra,dimethyl-oxo-poshy</text><rect x="395.65" y="53.10" width="255.20" height="4.30" rx="0.6" fill="#f0f0f0" stroke="#1e1e1e" stroke-width="0.8"/><text x="396.95" y="56.65" font-size="4.00" class="lb" font-family="Liberation Sans, sans-serif" textLength="252.60" lengthAdjust="spacingAndGlyphs">pos11683_hydroxy-neg-carbox(tetra)butyl)aminoindolhydroxyyl)pos,oxy,pos)phenylchloro-neg(propyl-acid-chloro-oxomethyl-methyl)oxy)pos-benzyl-amino-oxy(pyr</text><rect x="472.40" y="66.60" width="101.70" height="4.30" rx="0.6" fill="#f0f0f0" stroke="#1e1e1e" stroke-width="0.8"/><text x="473.70" y="70.15" font-size="4.00" class="lb" font-family="Liberation Sans, sans-serif" textLength="99.10" lengthAdjust="spacingAndGlyphs">pos5192_ethyl)propyl(indol)tetracarbox-yl-hydroxy-neg,ethyla</text><rect x="497.50" y="76.50" width="51.50" height="4.30" rx="0.6" fill="#f0f0f0" stroke="#1e1e1e" stroke-width="0.8"/><text x="498.80" y="80.05" font-size="4.00" class="lb" font-family="Liberation Sans, sans-serif" textLength="48.90" lengthAdjust="spacingAndGlyphs">neg4907_amide(methyl(ethyl-gl</text><rect x="509.05" y="82.35" width="28.40" height="4.30" rx="0.6" fill="#f0f0f0" stroke="#1e1e1e" stroke-width="0.8"/><text x="510.35" y="85.90" font-size="4.00" class="lb" font-family="Liberation Sans, sans-serif" textLength="25.80" lengthAdjust="spacingAndGlyphs">neg3579_propyl-</text><rect x="498.95" y="89.55" width="48.60" height="4.30" rx="0.6" fill="#f0f0f0" stroke="#1e1e1e" stroke-width="0.8"/><text x="500.25" y="93.10" font-size="4.00" class="lb" font-family="Liberation Sans, sans-serif" textLength="46.00" lengthAdjust="spacingAndGlyphs">pos4510_yl-ethyl-neg(oxo-am</text><rect x="503.45" y="97.20" width="39.60" height="4.30" rx="0.6" fill="#f0f0f0" stroke="#1e1e1e" stroke-width="0.8"/><text x="504.75" y="100.75" font-size="4.00" class="lb" font-family="Liberation Sans, sans-serif" textLength="37.00" lengthAdjust="spacingAndGlyphs">pos6033_amino-dimethyl</text><rect x="504.55" y="105.50" width="37.40" height="4.30" rx="0.6" fill="#f0f0f0" stroke="#1e1e1e" stroke-width="0.8"/><text x="505.85" y="109.05" font-size="4.00" class="lb" font-family="Liberation Sans, sans-serif" textLength="34.80" lengthAdjust="spacingAndGlyphs">pos393_carbox-hydro,n</text><rect x="505.45" y="113.85" width="35.60" height="4.30" rx="0.6" fill="#f0f0f0" stroke="#1e1e1e" stroke-width="0.8"/><text x="506.75" y="117.40" font-size="4.00" class="lb" font-family="Liberation Sans, sans-serif" textLength="33.00" lengthAdjust="spacingAndGlyphs">pos8000_methyl,dime</text><rect x="506.60" y="121.90" width="33.30" height="4.30" rx="0.6" fill="#f0f0f0" stroke="#1e1e1e" stroke-width="0.8"/><text x="507.90" y="125.45" font-size="4.00" class="lb" font-family="Liberation Sans, sans-serif" textLength="30.70" lengthAdjust="spacingAndGlyphs">pos1333_butyl-neg(</text><rect x="478.00" y="130.90" width="90.50" height="4.30" rx="0.6" fill="#f0f0f0" stroke="#1e1e1e" stroke-width="0.8"/><text x="479.30" y="134.45" font-size="4.00" class="lb" font-family="Liberation Sans, sans-serif" textLength="87.90" lengthAdjust="spacingAndGlyphs">neg5864_methyl-methylpos-oxy-chloropyridin-chloro-met</text><rect x="480.25" y="141.90" width="86.00" height="4.30" rx="0.6" fill="#f0f0f0" stroke="#1e1e1e" stroke-width="0.8"/><text x="481.55" y="145.45" font-size="4.00" class="lb" font-family="Liberation Sans, sans-serif" textLength="83.40" lengthAdjust="spacingAndGlyphs">pos4314_yl-pyridin-butyl-glucuron-amide-oxo-carbox</text><rect x="510.45" y="152.50" width="25.60" height="4.30" rx="0.6" fill="#f0f0f0" stroke="#1e1e1e" stroke-width="0.8"/><text x="511.75" y="156.05" font-size="4.00" class="lb" font-family="Liberation Sans, sans-serif" textLength="23.00" lengthAdjust="spacingAndGlyphs">pos11541_hydr</text><rect x="505.25" y="162.60" width="36.00" height="4.30" rx="0.6" fill="#f0f0f0" stroke="#1e1e1e" stroke-width="0.8"/><text x="506.55" y="166.15" font-size="4.00" class="lb" font-family="Liberation Sans, sans-serif" textLength="33.40" lengthAdjust="spacingAndGlyphs">neg4291_pos-oxo(tetr</text><rect x="468.70" y="171.85" width="109.10" height="4.30" rx="0.6" fill="#f0f0f0" stroke="#1e1e1e" stroke-width="0.8"/><text x="470.00" y="175.40" font-size="4.00" class="lb" font-family="Liberation Sans, sans-serif" textLength="106.50" lengthAdjust="spacingAndGlyphs">pos5711_tetra-carbox)dimethyltetra,propylpropyl)pyridin)oxy-prop</text><rect x="485.45" y="177.50" width="75.60" height="4.30" rx="0.6" fill="#f0f0f0" stroke="#1e1e1e" stroke-width="0.8"/><text x="486.75" y="181.05" font-size="4.00" class="lb" font-family="Liberation Sans, sans-serif" textLength="73.00" lengthAdjust="spacingAndGlyphs">pos8234_benzyl-hydro-acid(hydroxy-carbox,pro</text><rect x="510.45" y="184.90" width="25.60" height="4.30" rx="0.6" fill="#f0f0f0" stroke="#1e1e1e" stroke-width="0.8"/><text x="511.75" y="188.45" font-size="4.00" class="lb" font-family="Liberation Sans, sans-serif" textLength="23.00" lengthAdjust="spacingAndGlyphs">neg10352_amid</text><rect x="428.50" y="195.05" width="189.50" height="4.30" rx="0.6" fill="#f0f0f0" stroke="#1e1e1e" stroke-width="0.8"/><text x="429.80" y="198.60" font-size="4.00" class="lb" font-family="Liberation Sans, sans-serif" textLength="186.90" lengthAdjust="spacingAndGlyphs">neg11835_chloro-dimethyl-neg,chloro-tetra,oxy-oxo-indol(pyridin-propyl-acid)amino-indol-butyl-indol-methyl)propyl</text><rect x="466.75" y="203.60" width="113.00" height="4.30" rx="0.6" fill="#f0f0f0" stroke="#1e1e1e" stroke-width="0.8"/><text x="468.05" y="207.15" font-size="4.00" class="lb" font-family="Liberation Sans, sans-serif" textLength="110.40" lengthAdjust="spacingAndGlyphs">neg3027_hydro-carbox-phenyl)acid-glucuron(pyridin)methylpyridin(bu</text><rect x="500.70" y="213.25" width="45.10" height="4.30" rx="0.6" fill="#f0f0f0" stroke="#1e1e1e" stroke-width="0.8"/><text x="502.00" y="216.80" font-size="4.00" class="lb" font-family="Liberation Sans, sans-serif" textLength="42.50" lengthAdjust="spacingAndGlyphs">pos10348_posglucuron-buty</text><rect x="500.40" y="226.30" width="45.70" height="4.30" rx="0.6" fill="#f0f0f0" stroke="#1e1e1e" stroke-width="0.8"/><text x="501.70" y="229.85" font-size="4.00" class="lb" font-family="Liberation Sans, sans-serif" textLength="43.10" lengthAdjust="spacingAndGlyphs">pos1721_indol-propyl)pyrid</text><rect x="493.30" y="234.90" width="59.90" height="4.30" rx="0.6" fill="#f0f0f0" stroke="#1e1e1e" stroke-width="0.8"/><text x="494.60" y="238.45" font-size="4.00" class="lb" font-family="Liberation Sans, sans-serif" textLength="57.30" lengthAdjust="spacingAndGlyphs">neg8897_dimethyl,hydro-benzyl-neg-</text><rect x="487.45" y="242.75" width="71.60" height="4.30" rx="0.6" fill="#f0f0f0" stroke="#1e1e1e" stroke-width="0.8"/><text x="488.75" y="246.30" font-size="4.00" class="lb" font-family="Liberation Sans, sans-serif" textLength="69.00" lengthAdjust="spacingAndGlyphs">neg9116_yl,carbox-propyl-yl-phenyl-tetra(</text><rect x="500.40" y="252.40" width="45.70" height="4.30" rx="0.6" fill="#f0f0f0" stroke="#1e1e1e" stroke-width="0.8"/><text x="501.70" y="255.95" font-size="4.00" class="lb" font-family="Liberation Sans, sans-serif" textLength="43.10" lengthAdjust="spacingAndGlyphs">neg2535_amide-carbox-ethyl</text><rect x="501.40" y="264.80" width="43.70" height="4.30" rx="0.6" fill="#f0f0f0" stroke="#1e1e1e" stroke-width="0.8"/><text x="502.70" y="268.35" font-size="4.00" class="lb" font-family="Liberation Sans, sans-serif" textLength="41.10" lengthAdjust="spacingAndGlyphs">neg9300_indol(amide,oxoc</text><rect x="434.35" y="275.60" width="177.80" height="4.30" rx="0.6" fill="#f0f0f0" stroke="#1e1e1e" stroke-width="0.8"/><text x="435.65" y="279.15" font-size="4.00" class="lb" font-family="Liberation Sans, sans-serif" textLength="175.20" lengthAdjust="spacingAndGlyphs">neg2412_glucuron,oxy-propylglucuron-amide-chloropos-amideglucuron-carbox-hydro(methyl-ylacid)carbox-amino-</text><rect x="384.10" y="284.30" width="278.30" height="4.30" rx="0.6" fill="#f0f0f0" stroke="#1e1e1e" stroke-width="0.8"/><text x="385.40" y="287.85" font-size="4.00" class="lb" font-family="Liberation Sans, sans-serif" textLength="275.70" lengthAdjust="spacingAndGlyphs">neg7907_amide-hydroxy)yl-acid(hydro-neg)amino)pos,dimethyl-ethyl-hydroxy-oxy-amide,hydro)hydroposindolamide(glucuron)indol)amide)glucuron(ethyl-phenyl-chloro-propyl)pr</text><rect x="505.70" y="291.05" width="35.10" height="4.30" rx="0.6" fill="#f0f0f0" stroke="#1e1e1e" stroke-width="0.8"/><text x="507.00" y="294.60" font-size="4.00" class="lb" font-family="Liberation Sans, sans-serif" textLength="32.50" lengthAdjust="spacingAndGlyphs">pos4021_amino-acidh</text><line x1="341" y1="309.9" x2="705.7" y2="309.9" stroke="#bdbdbd" stroke-width="0.6"/><line x1="364.5" y1="309.9" x2="364.5" y2="311.5" stroke="#333" stroke-width="0.6"/><line x1="523.2" y1="309.9" x2="523.2" y2="311.5" stroke="#333" stroke-width="0.6"/><line x1="681.7" y1="309.9" x2="681.7" y2="311.5" stroke="#333" stroke-width="0.6"/><line x1="338.4" y1="296.00" x2="341" y2="296.00" stroke="#333" stroke-width="0.6"/><text x="337.4" y="298.05" font-size="5.75" text-anchor="end" class="g" font-family="Liberation Sans, sans-serif">0</text><line x1="338.4" y1="220.60" x2="341" y2="220.60" stroke="#333" stroke-width="0.6"/><text x="337.4" y="222.65" font-size="5.75" text-anchor="end" class="g" font-family="Liberation Sans, sans-serif">5</text><line x1="338.4" y1="145.30" x2="341" y2="145.30" stroke="#333" stroke-width="0.6"/><text x="337.4" y="147.35" font-size="5.75" text-anchor="end" class="g" font-family="Liberation Sans, sans-serif">10</text><line x1="338.4" y1="70.10" x2="341" y2="70.10" stroke="#333" stroke-width="0.6"/><text x="337.4" y="72.15" font-size="5.75" text-anchor="end" class="g" font-family="Liberation Sans, sans-serif">15</text><text x="364.5" y="317.6" font-size="5.75" text-anchor="middle" class="g" font-family="Liberation Sans, sans-serif">VM</text><text x="523.2" y="317.6" font-size="5.82" text-anchor="middle" class="g" font-family="Liberation Sans, sans-serif">Metabolite(Mediator)</text><text x="681.7" y="317.6" font-size="5.74" text-anchor="middle" class="g" font-family="Liberation Sans, sans-serif">Clinical Outcome</text><text transform="translate(327.4,154.5) rotate(-90)" font-size="5.78" text-anchor="middle" font-family="Liberation Sans, sans-serif" fill="#111">Mediation proportion (*100%)</text><text x="320.2" y="17.1" font-size="8.6" font-weight="bold" font-family="Liberation Sans, sans-serif" fill="#000">B</text><text x="713.5" y="143" font-size="5.6" font-family="Liberation Sans, sans-serif" fill="#111">Group</text><rect x="714.1" y="148" width="11.4" height="10.6" fill="#b9d0ea" fill-opacity="0.5"/><rect x="714.1" y="160.4" width="11.4" height="11.2" fill="#c87a80" fill-opacity="0.5"/><text x="729.7" y="155.5" font-size="5.74" font-family="Liberation Sans, sans-serif" fill="#111">HPV_C−enriched</text><text x="729.7" y="167.9" font-size="5.74" font-family="Liberation Sans, sans-serif" fill="#111">HPV_PH−enriched</text>
</svg></body></html>
